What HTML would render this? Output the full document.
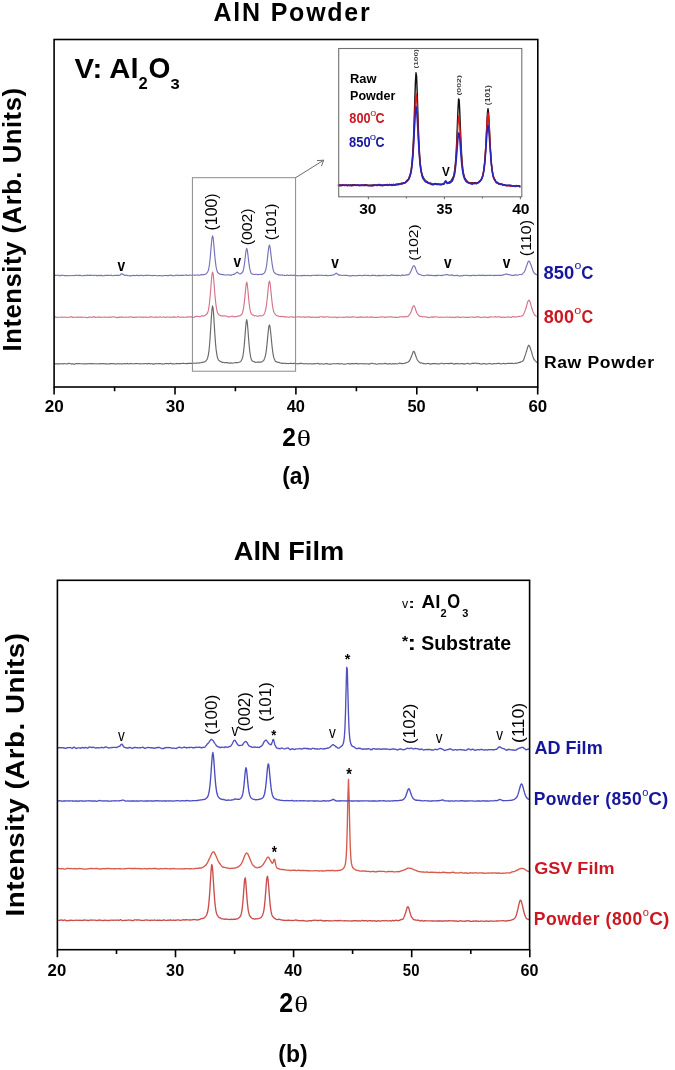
<!DOCTYPE html>
<html><head><meta charset="utf-8"><title>AlN XRD</title>
<style>html,body{margin:0;padding:0;background:#fff;width:675px;height:1070px;overflow:hidden}svg{display:block;will-change:transform}</style>
</head><body><svg width="675" height="1070" viewBox="0 0 675 1070"><path d="M54.1,363.9 54.7,364.0 55.3,363.8 55.9,363.8 56.5,363.8 57.1,363.9 57.7,363.8 58.3,363.8 58.9,363.9 59.5,363.9 60.1,363.9 60.7,363.8 61.3,363.7 61.9,363.6 62.5,363.8 63.1,363.8 63.7,363.8 64.3,363.7 64.9,363.6 65.5,363.7 66.1,363.7 66.7,363.9 67.3,364.0 67.9,363.7 68.5,363.4 69.1,363.2 69.7,363.5 70.3,363.7 70.9,363.8 71.5,364.1 72.1,363.9 72.7,363.9 73.3,363.9 73.9,364.1 74.5,364.2 75.1,363.9 75.7,363.6 76.3,363.6 76.9,363.6 77.5,363.7 78.1,363.6 78.7,363.6 79.3,363.6 79.9,363.7 80.5,363.7 81.1,363.8 81.7,363.7 82.3,363.8 82.9,363.9 83.5,364.0 84.1,363.8 84.7,363.8 85.3,363.7 85.9,363.9 86.5,363.7 87.1,363.9 87.7,363.8 88.3,363.7 88.9,363.6 89.5,363.6 90.1,363.8 90.7,363.7 91.3,363.6 91.9,363.6 92.5,363.6 93.1,363.8 93.7,363.8 94.3,363.7 94.9,363.7 95.5,363.8 96.1,363.9 96.7,363.8 97.3,363.7 97.9,363.8 98.5,364.0 99.1,363.9 99.7,363.7 100.3,363.6 100.9,363.5 101.5,363.8 102.1,363.8 102.7,363.7 103.3,363.5 103.9,363.6 104.5,363.8 105.1,363.9 105.7,363.8 106.3,363.8 106.9,363.9 107.5,364.0 108.1,364.0 108.7,363.9 109.3,363.8 109.9,363.9 110.5,363.6 111.1,363.6 111.7,363.5 112.3,363.6 112.9,363.7 113.5,363.6 114.1,363.8 114.7,363.8 115.3,363.9 115.9,364.0 116.5,364.0 117.1,363.9 117.7,363.5 118.3,363.7 118.9,363.8 119.5,363.9 120.1,363.7 120.7,363.7 121.3,363.9 121.9,363.9 122.5,363.9 123.1,363.7 123.7,363.7 124.3,363.6 124.9,363.8 125.5,363.9 126.1,363.8 126.7,363.5 127.3,363.4 127.9,363.8 128.5,364.0 129.1,363.8 129.7,363.6 130.3,363.6 130.9,363.7 131.5,363.6 132.1,363.7 132.7,363.7 133.3,363.8 133.9,363.7 134.5,363.7 135.1,363.6 135.7,363.5 136.3,363.6 136.9,363.5 137.5,363.5 138.1,363.7 138.7,363.8 139.3,363.9 139.9,363.8 140.5,363.8 141.1,363.7 141.7,363.7 142.3,363.8 142.9,363.7 143.5,363.8 144.1,363.6 144.7,363.7 145.3,363.5 145.9,363.5 146.5,363.8 147.1,363.8 147.7,363.8 148.3,363.4 148.9,363.5 149.5,363.6 150.1,363.8 150.7,363.8 151.3,363.7 151.9,363.8 152.5,363.9 153.1,364.1 153.7,364.1 154.3,363.9 154.9,363.7 155.5,363.6 156.1,363.7 156.7,363.7 157.3,363.8 157.9,363.6 158.5,363.7 159.1,363.6 159.7,363.6 160.3,363.6 160.9,363.8 161.5,364.0 162.1,364.0 162.7,363.7 163.3,364.0 163.9,364.0 164.5,364.0 165.1,363.6 165.7,363.5 166.3,363.5 166.9,363.6 167.5,363.5 168.1,363.8 168.7,363.9 169.3,363.6 169.9,363.5 170.5,363.2 171.1,363.6 171.7,363.7 172.3,363.9 172.9,363.6 173.5,363.8 174.1,364.0 174.7,364.0 175.3,363.8 175.9,363.5 176.5,363.6 177.1,363.4 177.7,363.7 178.3,363.6 178.9,363.7 179.5,363.6 180.1,363.6 180.7,363.6 181.3,363.5 181.9,363.5 182.5,363.4 183.1,363.4 183.7,363.4 184.3,363.5 184.9,363.5 185.5,363.5 186.1,363.6 186.7,363.6 187.3,363.6 187.9,363.4 188.5,363.4 189.1,363.2 189.7,363.4 190.3,363.3 190.9,363.3 191.5,363.3 192.1,363.4 192.7,363.5 193.3,363.2 193.9,363.1 194.5,363.2 195.1,363.2 195.7,363.2 196.3,363.1 196.9,363.1 197.5,363.0 198.1,363.0 198.7,363.1 199.3,362.8 199.9,363.0 200.5,362.8 201.1,362.7 201.7,362.5 202.3,362.4 202.9,362.4 203.5,362.1 204.1,362.0 204.7,361.7 205.3,361.3 205.9,360.9 206.5,360.2 207.1,359.2 207.7,357.5 208.3,355.1 208.9,351.3 209.5,345.5 210.1,337.8 210.7,328.4 211.3,318.4 211.9,310.0 212.5,305.9 213.1,308.1 213.7,315.4 214.3,325.4 214.9,334.9 215.5,343.1 216.1,349.4 216.7,353.7 217.3,357.0 217.9,358.8 218.5,360.1 219.1,360.6 219.7,361.1 220.3,361.4 220.9,361.6 221.5,362.0 222.1,362.3 222.7,362.3 223.3,362.4 223.9,362.5 224.5,362.6 225.1,362.7 225.7,362.8 226.3,362.6 226.9,362.6 227.5,362.6 228.1,362.9 228.7,363.0 229.3,363.2 229.9,363.1 230.5,363.1 231.1,362.9 231.7,363.0 232.3,363.2 232.9,363.2 233.5,363.0 234.1,362.8 234.7,362.7 235.3,362.6 235.9,362.6 236.5,362.6 237.1,362.7 237.7,362.6 238.3,362.5 238.9,362.3 239.5,362.0 240.1,361.9 240.7,361.3 241.3,360.6 241.9,359.4 242.5,357.8 243.1,355.0 243.7,350.8 244.3,344.6 244.9,337.4 245.5,329.3 246.1,322.6 246.7,319.6 247.3,322.4 247.9,329.3 248.5,337.4 249.1,344.8 249.7,350.8 250.3,355.0 250.9,357.9 251.5,359.7 252.1,360.7 252.7,361.3 253.3,361.4 253.9,361.7 254.5,361.8 255.1,362.2 255.7,362.4 256.3,362.2 256.9,362.2 257.5,362.0 258.1,362.3 258.7,362.1 259.3,362.1 259.9,362.0 260.5,362.1 261.1,362.1 261.7,361.8 262.3,361.4 262.9,361.1 263.5,360.6 264.1,359.6 264.7,358.2 265.3,356.1 265.9,353.3 266.5,348.8 267.1,343.4 267.7,336.9 268.3,330.9 268.9,326.1 269.5,324.9 270.1,327.3 270.7,332.5 271.3,338.7 271.9,344.7 272.5,350.2 273.1,354.3 273.7,357.1 274.3,358.9 274.9,360.2 275.5,361.4 276.1,361.7 276.7,361.9 277.3,362.1 277.9,362.3 278.5,362.4 279.1,362.4 279.7,362.8 280.3,363.0 280.9,363.1 281.5,363.0 282.1,363.3 282.7,363.3 283.3,363.5 283.9,363.2 284.5,363.3 285.1,363.2 285.7,363.4 286.3,363.6 286.9,363.5 287.5,363.5 288.1,363.5 288.7,363.6 289.3,363.5 289.9,363.4 290.5,363.3 291.1,363.3 291.7,363.4 292.3,363.5 292.9,363.6 293.5,363.4 294.1,363.4 294.7,363.3 295.3,363.7 295.9,363.6 296.5,363.7 297.1,363.6 297.7,363.8 298.3,363.9 298.9,363.7 299.5,363.4 300.1,363.3 300.7,363.3 301.3,363.6 301.9,363.3 302.5,363.6 303.1,363.7 303.7,363.8 304.3,363.8 304.9,363.7 305.5,363.8 306.1,363.7 306.7,363.6 307.3,363.7 307.9,363.8 308.5,363.8 309.1,363.8 309.7,363.7 310.3,363.8 310.9,363.7 311.5,364.0 312.1,363.9 312.7,364.0 313.3,363.9 313.9,363.9 314.5,363.6 315.1,363.7 315.7,363.7 316.3,363.7 316.9,363.5 317.5,363.4 318.1,363.4 318.7,363.7 319.3,363.9 319.9,364.1 320.5,364.0 321.1,363.8 321.7,363.7 322.3,363.8 322.9,364.1 323.5,364.2 324.1,364.1 324.7,363.8 325.3,363.7 325.9,363.6 326.5,363.6 327.1,363.6 327.7,364.0 328.3,364.0 328.9,364.1 329.5,364.1 330.1,364.1 330.7,364.1 331.3,364.0 331.9,364.0 332.5,363.8 333.1,363.7 333.7,363.8 334.3,363.7 334.9,363.7 335.5,363.8 336.1,363.7 336.7,363.7 337.3,363.5 337.9,363.6 338.5,363.7 339.1,363.9 339.7,363.9 340.3,363.9 340.9,363.8 341.5,363.7 342.1,363.7 342.7,363.9 343.3,364.0 343.9,364.2 344.5,364.1 345.1,364.2 345.7,364.0 346.3,364.0 346.9,363.8 347.5,363.5 348.1,363.5 348.7,363.8 349.3,363.9 349.9,363.9 350.5,363.8 351.1,363.8 351.7,363.5 352.3,363.6 352.9,363.5 353.5,363.6 354.1,363.9 354.7,363.7 355.3,363.7 355.9,363.3 356.5,363.6 357.1,363.6 357.7,363.9 358.3,363.8 358.9,363.9 359.5,363.7 360.1,363.6 360.7,363.7 361.3,363.7 361.9,363.7 362.5,363.5 363.1,363.7 363.7,363.9 364.3,364.0 364.9,363.7 365.5,363.8 366.1,363.8 366.7,363.7 367.3,363.8 367.9,364.0 368.5,364.1 369.1,363.9 369.7,363.8 370.3,363.8 370.9,363.5 371.5,363.2 372.1,363.3 372.7,363.5 373.3,363.7 373.9,363.8 374.5,363.7 375.1,363.7 375.7,363.9 376.3,364.2 376.9,364.2 377.5,364.0 378.1,364.0 378.7,363.7 379.3,363.8 379.9,363.7 380.5,363.9 381.1,363.9 381.7,363.8 382.3,363.7 382.9,363.8 383.5,363.8 384.1,363.7 384.7,363.4 385.3,363.4 385.9,363.6 386.5,363.8 387.1,364.1 387.7,364.0 388.3,363.8 388.9,363.8 389.5,363.6 390.1,363.8 390.7,363.8 391.3,364.0 391.9,363.9 392.5,363.7 393.1,363.6 393.7,363.9 394.3,363.9 394.9,363.7 395.5,363.5 396.1,363.7 396.7,364.0 397.3,364.0 397.9,363.8 398.5,363.5 399.1,363.2 399.7,363.0 400.3,363.2 400.9,363.4 401.5,363.6 402.1,363.6 402.7,363.6 403.3,363.5 403.9,363.4 404.5,363.3 405.1,363.2 405.7,362.9 406.3,362.6 406.9,362.5 407.5,362.3 408.1,362.0 408.7,361.5 409.3,361.0 409.9,359.9 410.5,358.7 411.1,357.2 411.7,355.8 412.3,354.1 412.9,352.5 413.5,351.4 414.1,351.4 414.7,352.8 415.3,354.5 415.9,356.2 416.5,357.9 417.1,359.4 417.7,360.6 418.3,361.1 418.9,361.7 419.5,362.5 420.1,362.8 420.7,363.1 421.3,362.8 421.9,363.1 422.5,363.2 423.1,363.4 423.7,363.6 424.3,363.6 424.9,363.7 425.5,363.8 426.1,363.9 426.7,363.8 427.3,363.5 427.9,363.4 428.5,363.5 429.1,363.5 429.7,364.0 430.3,364.1 430.9,364.1 431.5,363.8 432.1,363.8 432.7,363.6 433.3,363.6 433.9,363.5 434.5,363.6 435.1,363.6 435.7,363.5 436.3,363.7 436.9,363.8 437.5,363.8 438.1,363.8 438.7,363.8 439.3,363.9 439.9,363.8 440.5,363.6 441.1,363.3 441.7,363.2 442.3,363.3 442.9,363.6 443.5,363.8 444.1,363.8 444.7,363.6 445.3,363.5 445.9,363.5 446.5,363.6 447.1,363.5 447.7,363.5 448.3,363.6 448.9,363.6 449.5,363.6 450.1,363.2 450.7,363.5 451.3,363.4 451.9,363.4 452.5,363.4 453.1,363.7 453.7,364.0 454.3,364.1 454.9,363.9 455.5,363.6 456.1,363.6 456.7,363.5 457.3,363.6 457.9,363.6 458.5,363.7 459.1,363.8 459.7,363.8 460.3,363.7 460.9,363.8 461.5,363.6 462.1,363.8 462.7,363.6 463.3,363.9 463.9,363.8 464.5,364.1 465.1,363.9 465.7,363.8 466.3,363.7 466.9,363.5 467.5,363.4 468.1,363.4 468.7,363.8 469.3,364.0 469.9,363.9 470.5,363.9 471.1,363.7 471.7,363.6 472.3,363.3 472.9,363.3 473.5,363.4 474.1,363.6 474.7,363.2 475.3,363.0 475.9,363.0 476.5,363.5 477.1,363.7 477.7,363.6 478.3,363.3 478.9,363.6 479.5,363.6 480.1,364.0 480.7,364.0 481.3,364.2 481.9,363.9 482.5,363.7 483.1,363.6 483.7,363.7 484.3,363.6 484.9,363.8 485.5,363.9 486.1,364.1 486.7,364.0 487.3,364.0 487.9,363.7 488.5,363.7 489.1,363.5 489.7,363.4 490.3,363.7 490.9,363.8 491.5,364.1 492.1,364.0 492.7,363.9 493.3,363.7 493.9,363.5 494.5,363.6 495.1,363.7 495.7,363.7 496.3,363.7 496.9,363.4 497.5,363.5 498.1,363.4 498.7,363.5 499.3,363.4 499.9,363.6 500.5,363.7 501.1,364.0 501.7,363.9 502.3,363.7 502.9,363.5 503.5,363.3 504.1,363.5 504.7,363.7 505.3,363.9 505.9,363.7 506.5,363.5 507.1,363.5 507.7,363.4 508.3,363.4 508.9,363.4 509.5,363.5 510.1,363.4 510.7,363.4 511.3,363.4 511.9,363.3 512.5,363.4 513.1,363.5 513.7,363.7 514.3,363.5 514.9,363.2 515.5,363.1 516.1,363.3 516.7,363.3 517.3,363.0 517.9,362.8 518.5,362.6 519.1,362.6 519.7,362.3 520.3,362.3 520.9,361.8 521.5,361.7 522.1,361.5 522.7,361.1 523.3,360.4 523.9,359.0 524.5,357.6 525.1,355.6 525.7,353.9 526.3,351.8 526.9,350.0 527.5,347.7 528.1,346.1 528.7,345.2 529.3,345.7 529.9,347.0 530.5,348.7 531.1,350.6 531.7,352.4 532.3,354.7 532.9,356.7 533.5,358.4 534.1,359.5 534.7,360.1 535.3,360.8 535.9,361.4 536.5,362.1 537.1,362.6 537.7,362.7" fill="none" stroke="#686868" stroke-width="1.15" stroke-linejoin="round"/>
<path d="M54.1,317.2 54.7,317.1 55.3,316.8 55.9,317.1 56.5,317.2 57.1,317.5 57.7,317.4 58.3,317.3 58.9,317.2 59.5,317.3 60.1,317.2 60.7,317.2 61.3,317.0 61.9,317.1 62.5,317.1 63.1,317.3 63.7,317.2 64.3,317.2 64.9,317.0 65.5,317.2 66.1,317.2 66.7,317.3 67.3,317.3 67.9,317.2 68.5,317.2 69.1,317.4 69.7,317.3 70.3,317.0 70.9,316.6 71.5,316.9 72.1,317.1 72.7,317.4 73.3,317.4 73.9,317.4 74.5,317.3 75.1,317.2 75.7,317.3 76.3,317.1 76.9,317.1 77.5,317.0 78.1,317.4 78.7,317.3 79.3,317.2 79.9,316.9 80.5,317.1 81.1,317.2 81.7,317.4 82.3,317.1 82.9,317.3 83.5,317.2 84.1,317.3 84.7,317.2 85.3,317.2 85.9,317.4 86.5,317.5 87.1,317.6 87.7,317.6 88.3,317.5 88.9,317.1 89.5,317.1 90.1,317.1 90.7,317.2 91.3,317.1 91.9,317.2 92.5,317.1 93.1,317.0 93.7,316.6 94.3,316.9 94.9,317.1 95.5,317.5 96.1,317.4 96.7,317.3 97.3,317.2 97.9,317.1 98.5,317.1 99.1,316.9 99.7,317.1 100.3,317.3 100.9,317.5 101.5,317.2 102.1,317.1 102.7,317.2 103.3,317.2 103.9,317.2 104.5,317.1 105.1,317.0 105.7,317.1 106.3,317.2 106.9,317.2 107.5,317.4 108.1,317.2 108.7,317.3 109.3,317.0 109.9,317.1 110.5,317.1 111.1,317.1 111.7,317.1 112.3,317.0 112.9,316.9 113.5,316.8 114.1,316.9 114.7,317.0 115.3,317.3 115.9,317.4 116.5,317.6 117.1,317.6 117.7,317.4 118.3,317.4 118.9,317.2 119.5,317.4 120.1,317.1 120.7,317.2 121.3,316.9 121.9,317.1 122.5,317.0 123.1,317.2 123.7,317.2 124.3,317.3 124.9,317.5 125.5,317.2 126.1,317.1 126.7,317.1 127.3,317.2 127.9,317.3 128.5,317.3 129.1,317.1 129.7,317.0 130.3,316.9 130.9,316.9 131.5,316.9 132.1,317.2 132.7,317.4 133.3,317.3 133.9,317.3 134.5,317.1 135.1,317.4 135.7,317.4 136.3,317.5 136.9,317.1 137.5,317.0 138.1,317.0 138.7,317.1 139.3,317.2 139.9,317.0 140.5,317.1 141.1,317.0 141.7,317.3 142.3,317.2 142.9,317.5 143.5,317.1 144.1,317.2 144.7,317.0 145.3,317.1 145.9,317.0 146.5,317.1 147.1,317.2 147.7,317.2 148.3,317.4 148.9,317.3 149.5,317.1 150.1,316.9 150.7,316.9 151.3,316.8 151.9,317.0 152.5,317.0 153.1,317.2 153.7,317.2 154.3,317.3 154.9,317.4 155.5,317.1 156.1,317.1 156.7,317.1 157.3,317.1 157.9,317.2 158.5,317.2 159.1,317.1 159.7,317.0 160.3,316.8 160.9,317.1 161.5,317.2 162.1,317.2 162.7,317.0 163.3,316.9 163.9,317.0 164.5,317.3 165.1,317.4 165.7,317.4 166.3,317.3 166.9,316.9 167.5,317.0 168.1,317.0 168.7,317.2 169.3,317.1 169.9,317.1 170.5,317.3 171.1,317.4 171.7,317.2 172.3,317.2 172.9,316.9 173.5,317.1 174.1,316.9 174.7,317.2 175.3,317.0 175.9,317.3 176.5,317.2 177.1,317.1 177.7,316.7 178.3,316.6 178.9,317.0 179.5,317.2 180.1,317.2 180.7,317.1 181.3,317.1 181.9,317.2 182.5,317.2 183.1,317.0 183.7,317.1 184.3,317.2 184.9,317.2 185.5,317.3 186.1,317.2 186.7,317.3 187.3,316.8 187.9,316.8 188.5,316.9 189.1,317.0 189.7,316.8 190.3,316.8 190.9,316.8 191.5,316.9 192.1,317.1 192.7,317.4 193.3,317.6 193.9,317.2 194.5,317.0 195.1,316.6 195.7,316.6 196.3,316.4 196.9,316.5 197.5,316.3 198.1,316.4 198.7,316.5 199.3,316.7 199.9,316.6 200.5,316.5 201.1,316.2 201.7,315.8 202.3,315.8 202.9,315.9 203.5,316.0 204.1,315.9 204.7,315.5 205.3,315.2 205.9,314.7 206.5,314.2 207.1,313.7 207.7,312.6 208.3,310.7 208.9,307.3 209.5,302.8 210.1,296.7 210.7,289.6 211.3,281.8 211.9,275.3 212.5,272.0 213.1,273.7 213.7,279.3 214.3,286.8 214.9,294.2 215.5,300.8 216.1,305.8 216.7,309.4 217.3,312.0 217.9,313.6 218.5,314.4 219.1,314.9 219.7,315.1 220.3,315.6 220.9,315.8 221.5,315.9 222.1,315.9 222.7,316.1 223.3,316.0 223.9,315.9 224.5,315.8 225.1,316.0 225.7,316.0 226.3,316.0 226.9,316.3 227.5,316.5 228.1,316.9 228.7,316.8 229.3,316.9 229.9,316.7 230.5,316.7 231.1,316.5 231.7,316.2 232.3,316.1 232.9,316.3 233.5,316.7 234.1,316.8 234.7,316.8 235.3,316.5 235.9,316.5 236.5,316.6 237.1,316.5 237.7,316.3 238.3,315.9 238.9,316.0 239.5,315.9 240.1,315.8 240.7,315.3 241.3,314.9 241.9,314.1 242.5,312.7 243.1,310.5 243.7,307.1 244.3,302.6 244.9,296.9 245.5,290.2 246.1,284.6 246.7,282.1 247.3,284.5 247.9,290.2 248.5,296.7 249.1,303.0 249.7,307.5 250.3,310.9 250.9,312.8 251.5,314.1 252.1,314.5 252.7,314.8 253.3,315.2 253.9,315.6 254.5,315.9 255.1,315.7 255.7,315.8 256.3,316.0 256.9,316.1 257.5,316.3 258.1,316.2 258.7,316.1 259.3,315.6 259.9,315.7 260.5,315.7 261.1,315.9 261.7,315.7 262.3,315.7 262.9,315.4 263.5,314.9 264.1,314.1 264.7,312.9 265.3,311.1 265.9,308.5 266.5,304.6 267.1,299.7 267.7,293.6 268.3,287.4 268.9,282.6 269.5,281.1 270.1,283.5 270.7,288.8 271.3,294.9 271.9,300.8 272.5,305.7 273.1,309.2 273.7,311.8 274.3,313.0 274.9,313.9 275.5,314.4 276.1,315.1 276.7,315.7 277.3,315.7 277.9,315.9 278.5,316.0 279.1,316.4 279.7,316.5 280.3,316.6 280.9,316.4 281.5,316.5 282.1,316.4 282.7,316.7 283.3,316.6 283.9,316.6 284.5,316.6 285.1,317.0 285.7,317.1 286.3,317.1 286.9,316.9 287.5,317.0 288.1,317.0 288.7,317.3 289.3,317.2 289.9,317.1 290.5,316.8 291.1,316.7 291.7,316.7 292.3,316.9 292.9,317.1 293.5,317.1 294.1,317.2 294.7,317.1 295.3,317.2 295.9,317.0 296.5,317.0 297.1,317.0 297.7,316.7 298.3,316.7 298.9,316.9 299.5,316.8 300.1,316.9 300.7,316.9 301.3,317.2 301.9,317.1 302.5,317.0 303.1,317.0 303.7,316.9 304.3,317.1 304.9,317.0 305.5,317.1 306.1,317.0 306.7,317.1 307.3,317.0 307.9,316.8 308.5,316.8 309.1,316.9 309.7,317.1 310.3,317.1 310.9,317.4 311.5,317.3 312.1,317.4 312.7,317.0 313.3,317.1 313.9,317.2 314.5,317.2 315.1,317.4 315.7,317.4 316.3,317.3 316.9,317.3 317.5,317.1 318.1,317.5 318.7,317.3 319.3,317.3 319.9,316.8 320.5,316.7 321.1,316.7 321.7,316.8 322.3,316.8 322.9,316.8 323.5,316.9 324.1,317.2 324.7,317.1 325.3,317.1 325.9,316.8 326.5,316.8 327.1,316.7 327.7,316.7 328.3,317.0 328.9,317.1 329.5,317.2 330.1,317.1 330.7,317.2 331.3,317.2 331.9,317.2 332.5,317.1 333.1,317.2 333.7,317.2 334.3,317.2 334.9,317.0 335.5,317.1 336.1,317.2 336.7,317.7 337.3,317.4 337.9,317.5 338.5,317.1 339.1,317.2 339.7,317.2 340.3,317.2 340.9,317.2 341.5,317.1 342.1,317.2 342.7,317.3 343.3,317.4 343.9,317.4 344.5,317.4 345.1,317.2 345.7,317.0 346.3,316.9 346.9,316.9 347.5,317.1 348.1,317.1 348.7,317.1 349.3,317.1 349.9,317.0 350.5,317.1 351.1,317.0 351.7,317.1 352.3,316.9 352.9,316.8 353.5,316.8 354.1,317.0 354.7,317.0 355.3,317.0 355.9,317.2 356.5,317.2 357.1,317.4 357.7,317.3 358.3,317.3 358.9,317.3 359.5,317.1 360.1,317.1 360.7,316.9 361.3,317.1 361.9,317.1 362.5,317.2 363.1,316.9 363.7,317.2 364.3,317.3 364.9,317.4 365.5,317.2 366.1,316.9 366.7,316.9 367.3,317.1 367.9,317.1 368.5,317.2 369.1,317.2 369.7,317.3 370.3,317.1 370.9,316.9 371.5,317.1 372.1,317.1 372.7,317.0 373.3,317.1 373.9,317.2 374.5,317.5 375.1,317.5 375.7,317.4 376.3,317.3 376.9,317.3 377.5,317.4 378.1,317.3 378.7,317.2 379.3,317.1 379.9,317.0 380.5,317.0 381.1,316.8 381.7,316.9 382.3,316.8 382.9,317.0 383.5,317.0 384.1,317.1 384.7,317.4 385.3,317.4 385.9,317.2 386.5,317.0 387.1,316.9 387.7,317.1 388.3,317.0 388.9,317.0 389.5,316.9 390.1,316.9 390.7,316.8 391.3,316.8 391.9,316.8 392.5,317.2 393.1,317.2 393.7,317.2 394.3,317.1 394.9,317.2 395.5,317.4 396.1,317.4 396.7,317.3 397.3,317.3 397.9,317.4 398.5,317.3 399.1,317.2 399.7,316.8 400.3,316.8 400.9,316.7 401.5,316.8 402.1,316.8 402.7,316.8 403.3,316.8 403.9,316.9 404.5,316.9 405.1,316.8 405.7,316.5 406.3,316.6 406.9,316.7 407.5,316.6 408.1,316.3 408.7,315.6 409.3,314.9 409.9,314.0 410.5,313.2 411.1,311.8 411.7,310.0 412.3,308.2 412.9,306.5 413.5,305.8 414.1,305.7 414.7,306.9 415.3,308.4 415.9,310.5 416.5,312.1 417.1,313.5 417.7,314.2 418.3,315.1 418.9,315.5 419.5,316.1 420.1,316.4 420.7,316.5 421.3,316.4 421.9,316.5 422.5,316.8 423.1,316.8 423.7,316.7 424.3,316.8 424.9,317.0 425.5,317.1 426.1,316.9 426.7,317.0 427.3,317.0 427.9,317.5 428.5,317.6 429.1,317.6 429.7,317.2 430.3,317.0 430.9,317.0 431.5,317.1 432.1,316.9 432.7,317.1 433.3,317.1 433.9,317.1 434.5,316.8 435.1,316.8 435.7,316.9 436.3,317.0 436.9,317.0 437.5,317.0 438.1,317.0 438.7,317.2 439.3,317.3 439.9,317.3 440.5,317.2 441.1,317.0 441.7,317.2 442.3,317.3 442.9,317.3 443.5,317.2 444.1,317.2 444.7,317.3 445.3,317.2 445.9,317.1 446.5,317.0 447.1,317.0 447.7,317.1 448.3,317.2 448.9,317.2 449.5,317.1 450.1,317.0 450.7,317.2 451.3,317.4 451.9,317.3 452.5,317.0 453.1,317.2 453.7,317.5 454.3,317.6 454.9,317.5 455.5,317.1 456.1,317.1 456.7,317.1 457.3,317.0 457.9,316.9 458.5,316.9 459.1,317.3 459.7,317.3 460.3,317.3 460.9,317.3 461.5,317.3 462.1,317.2 462.7,317.0 463.3,317.0 463.9,317.3 464.5,317.3 465.1,317.2 465.7,317.4 466.3,317.3 466.9,317.4 467.5,317.2 468.1,317.4 468.7,317.4 469.3,317.3 469.9,317.2 470.5,317.1 471.1,317.0 471.7,317.0 472.3,317.1 472.9,317.1 473.5,317.1 474.1,317.3 474.7,317.4 475.3,317.2 475.9,317.1 476.5,316.8 477.1,316.8 477.7,316.8 478.3,316.8 478.9,317.1 479.5,317.0 480.1,317.2 480.7,317.4 481.3,317.5 481.9,317.4 482.5,317.3 483.1,317.2 483.7,317.1 484.3,317.1 484.9,317.0 485.5,317.1 486.1,317.2 486.7,317.3 487.3,317.4 487.9,317.6 488.5,317.4 489.1,317.2 489.7,316.8 490.3,317.0 490.9,316.9 491.5,316.9 492.1,317.0 492.7,317.0 493.3,317.0 493.9,317.0 494.5,316.8 495.1,316.9 495.7,316.9 496.3,317.1 496.9,317.0 497.5,317.0 498.1,316.8 498.7,316.9 499.3,316.8 499.9,317.0 500.5,316.9 501.1,317.2 501.7,317.4 502.3,317.4 502.9,317.2 503.5,317.0 504.1,317.1 504.7,317.4 505.3,317.5 505.9,317.3 506.5,317.2 507.1,317.0 507.7,317.1 508.3,316.9 508.9,317.0 509.5,317.1 510.1,317.2 510.7,317.3 511.3,317.3 511.9,316.9 512.5,316.5 513.1,316.5 513.7,316.7 514.3,317.1 514.9,317.1 515.5,317.0 516.1,316.9 516.7,317.0 517.3,316.9 517.9,316.8 518.5,316.5 519.1,316.3 519.7,316.3 520.3,316.2 520.9,316.2 521.5,316.0 522.1,315.9 522.7,315.5 523.3,314.8 523.9,313.6 524.5,312.2 525.1,310.6 525.7,309.1 526.3,307.0 526.9,304.8 527.5,302.5 528.1,301.1 528.7,300.2 529.3,300.3 529.9,301.5 530.5,303.3 531.1,305.7 531.7,307.8 532.3,309.8 532.9,311.4 533.5,312.7 534.1,314.0 534.7,314.8 535.3,315.6 535.9,316.0 536.5,316.2 537.1,316.2 537.7,316.3" fill="none" stroke="#d4748a" stroke-width="1.15" stroke-linejoin="round"/>
<path d="M54.1,275.4 54.7,275.5 55.3,275.2 55.9,275.4 56.5,275.3 57.1,275.2 57.7,275.2 58.3,275.1 58.9,275.7 59.5,275.8 60.1,275.9 60.7,275.4 61.3,275.3 61.9,275.3 62.5,275.2 63.1,275.4 63.7,275.5 64.3,275.6 64.9,275.6 65.5,275.6 66.1,275.6 66.7,275.7 67.3,275.7 67.9,275.5 68.5,275.5 69.1,275.8 69.7,275.7 70.3,275.7 70.9,275.5 71.5,275.5 72.1,275.5 72.7,275.5 73.3,275.6 73.9,275.7 74.5,275.6 75.1,275.3 75.7,275.4 76.3,275.2 76.9,275.3 77.5,275.2 78.1,275.4 78.7,275.6 79.3,275.4 79.9,275.3 80.5,275.4 81.1,275.6 81.7,275.7 82.3,275.8 82.9,275.7 83.5,275.6 84.1,275.5 84.7,275.4 85.3,275.5 85.9,275.6 86.5,275.4 87.1,275.4 87.7,275.1 88.3,275.3 88.9,275.3 89.5,275.4 90.1,275.4 90.7,275.2 91.3,275.5 91.9,275.2 92.5,275.2 93.1,275.2 93.7,275.6 94.3,275.5 94.9,275.3 95.5,275.2 96.1,275.4 96.7,275.6 97.3,275.5 97.9,275.6 98.5,275.3 99.1,275.6 99.7,275.5 100.3,275.6 100.9,275.2 101.5,275.4 102.1,275.6 102.7,275.8 103.3,275.8 103.9,275.7 104.5,275.6 105.1,275.4 105.7,275.2 106.3,275.5 106.9,275.4 107.5,275.4 108.1,275.2 108.7,275.4 109.3,275.5 109.9,275.4 110.5,275.2 111.1,275.1 111.7,275.4 112.3,275.7 112.9,275.7 113.5,275.5 114.1,275.5 114.7,275.4 115.3,275.5 115.9,275.4 116.5,275.4 117.1,275.3 117.7,275.4 118.3,275.3 118.9,275.4 119.5,275.3 120.1,275.1 120.7,274.3 121.3,273.9 121.9,273.7 122.5,274.3 123.1,274.4 123.7,274.9 124.3,275.1 124.9,275.4 125.5,275.2 126.1,275.0 126.7,275.2 127.3,275.4 127.9,275.7 128.5,275.7 129.1,275.7 129.7,275.5 130.3,275.8 130.9,275.8 131.5,275.9 132.1,275.6 132.7,275.5 133.3,275.2 133.9,275.5 134.5,275.6 135.1,275.7 135.7,275.5 136.3,275.4 136.9,275.4 137.5,275.3 138.1,275.3 138.7,275.7 139.3,275.8 139.9,275.7 140.5,275.2 141.1,275.1 141.7,275.2 142.3,275.5 142.9,275.6 143.5,275.6 144.1,275.5 144.7,275.5 145.3,275.3 145.9,275.3 146.5,275.3 147.1,275.3 147.7,275.3 148.3,275.2 148.9,275.3 149.5,275.4 150.1,275.5 150.7,275.5 151.3,275.5 151.9,275.6 152.5,275.8 153.1,275.5 153.7,275.5 154.3,275.3 154.9,275.5 155.5,275.5 156.1,275.7 156.7,275.8 157.3,275.7 157.9,275.8 158.5,275.6 159.1,275.6 159.7,275.5 160.3,275.5 160.9,275.7 161.5,275.8 162.1,276.1 162.7,275.8 163.3,275.7 163.9,275.4 164.5,275.5 165.1,275.5 165.7,275.5 166.3,275.4 166.9,275.7 167.5,275.5 168.1,275.7 168.7,275.4 169.3,275.4 169.9,275.2 170.5,275.1 171.1,275.2 171.7,275.4 172.3,275.6 172.9,275.6 173.5,275.7 174.1,275.7 174.7,275.7 175.3,275.4 175.9,275.2 176.5,275.3 177.1,275.1 177.7,275.4 178.3,275.3 178.9,275.6 179.5,275.5 180.1,275.4 180.7,275.3 181.3,275.3 181.9,275.3 182.5,275.3 183.1,275.3 183.7,275.3 184.3,275.2 184.9,275.2 185.5,275.0 186.1,275.1 186.7,274.9 187.3,275.3 187.9,275.5 188.5,275.4 189.1,275.3 189.7,275.1 190.3,275.2 190.9,275.2 191.5,275.2 192.1,275.1 192.7,275.0 193.3,275.0 193.9,275.2 194.5,275.1 195.1,275.1 195.7,275.2 196.3,275.2 196.9,275.0 197.5,274.9 198.1,274.9 198.7,275.2 199.3,275.2 199.9,275.1 200.5,274.7 201.1,274.6 201.7,274.9 202.3,274.9 202.9,274.9 203.5,274.5 204.1,274.4 204.7,274.5 205.3,274.2 205.9,274.0 206.5,273.4 207.1,272.9 207.7,271.8 208.3,270.5 208.9,267.9 209.5,264.3 210.1,258.8 210.7,252.1 211.3,244.9 211.9,238.8 212.5,235.8 213.1,237.5 213.7,243.0 214.3,250.1 214.9,257.0 215.5,262.7 216.1,266.9 216.7,269.7 217.3,271.6 217.9,272.7 218.5,273.3 219.1,273.6 219.7,274.1 220.3,274.3 220.9,274.4 221.5,274.3 222.1,274.6 222.7,274.5 223.3,274.6 223.9,274.7 224.5,274.9 225.1,275.0 225.7,275.0 226.3,275.0 226.9,274.9 227.5,274.7 228.1,274.7 228.7,274.9 229.3,275.0 229.9,275.3 230.5,275.0 231.1,275.3 231.7,275.0 232.3,274.7 232.9,274.5 233.5,274.4 234.1,274.4 234.7,274.0 235.3,273.6 235.9,273.2 236.5,272.6 237.1,272.2 237.7,272.4 238.3,272.9 238.9,273.4 239.5,273.8 240.1,274.1 240.7,273.8 241.3,273.3 241.9,272.8 242.5,272.2 243.1,271.0 243.7,268.6 244.3,264.9 244.9,260.2 245.5,254.8 246.1,250.3 246.7,248.3 247.3,250.1 247.9,254.6 248.5,259.9 249.1,264.7 249.7,268.4 250.3,270.8 250.9,272.8 251.5,273.6 252.1,274.1 252.7,274.1 253.3,274.2 253.9,274.4 254.5,274.5 255.1,274.4 255.7,274.2 256.3,274.2 256.9,274.3 257.5,274.8 258.1,274.6 258.7,274.5 259.3,274.5 259.9,274.4 260.5,274.5 261.1,274.4 261.7,274.4 262.3,274.3 262.9,273.9 263.5,273.7 264.1,273.1 264.7,272.4 265.3,271.0 265.9,269.2 266.5,266.0 267.1,261.5 267.7,256.1 268.3,250.6 268.9,246.5 269.5,245.0 270.1,247.5 270.7,252.1 271.3,257.6 271.9,262.3 272.5,266.3 273.1,269.3 273.7,271.4 274.3,272.6 274.9,273.0 275.5,273.6 276.1,274.0 276.7,274.2 277.3,274.4 277.9,274.5 278.5,274.9 279.1,274.8 279.7,275.1 280.3,275.1 280.9,275.2 281.5,275.0 282.1,274.9 282.7,275.1 283.3,275.2 283.9,275.3 284.5,275.3 285.1,275.5 285.7,275.5 286.3,275.5 286.9,275.1 287.5,275.1 288.1,275.2 288.7,275.4 289.3,275.5 289.9,275.3 290.5,275.3 291.1,275.1 291.7,275.3 292.3,275.4 292.9,275.5 293.5,275.2 294.1,275.1 294.7,275.4 295.3,275.6 295.9,275.5 296.5,275.5 297.1,275.6 297.7,275.8 298.3,275.8 298.9,275.7 299.5,275.7 300.1,275.7 300.7,275.5 301.3,275.6 301.9,275.5 302.5,275.8 303.1,275.4 303.7,275.5 304.3,275.4 304.9,275.6 305.5,275.5 306.1,275.5 306.7,275.6 307.3,275.5 307.9,275.4 308.5,275.5 309.1,275.7 309.7,275.7 310.3,275.6 310.9,275.5 311.5,275.6 312.1,275.5 312.7,275.3 313.3,275.2 313.9,275.2 314.5,275.3 315.1,275.3 315.7,275.4 316.3,275.4 316.9,275.5 317.5,275.2 318.1,275.4 318.7,275.1 319.3,275.2 319.9,275.2 320.5,275.3 321.1,275.4 321.7,275.2 322.3,275.3 322.9,275.4 323.5,275.5 324.1,275.5 324.7,275.5 325.3,275.4 325.9,275.2 326.5,275.4 327.1,275.6 327.7,275.8 328.3,275.7 328.9,275.5 329.5,275.5 330.1,275.4 330.7,275.5 331.3,275.4 331.9,275.3 332.5,275.1 333.1,274.8 333.7,274.8 334.3,274.6 334.9,274.2 335.5,273.6 336.1,273.1 336.7,273.4 337.3,273.9 337.9,274.5 338.5,274.9 339.1,274.9 339.7,275.1 340.3,275.1 340.9,275.2 341.5,275.3 342.1,275.5 342.7,275.5 343.3,275.2 343.9,275.2 344.5,275.3 345.1,275.4 345.7,275.3 346.3,275.3 346.9,275.4 347.5,275.5 348.1,275.6 348.7,275.8 349.3,275.9 349.9,275.9 350.5,275.8 351.1,275.8 351.7,275.8 352.3,275.6 352.9,275.5 353.5,275.4 354.1,275.8 354.7,275.7 355.3,275.7 355.9,275.6 356.5,275.8 357.1,275.7 357.7,275.6 358.3,275.5 358.9,275.4 359.5,275.5 360.1,275.4 360.7,275.5 361.3,275.7 361.9,275.7 362.5,275.6 363.1,275.4 363.7,275.5 364.3,275.4 364.9,275.3 365.5,275.2 366.1,275.4 366.7,275.5 367.3,275.5 367.9,275.3 368.5,275.4 369.1,275.6 369.7,275.7 370.3,275.7 370.9,275.6 371.5,275.4 372.1,275.4 372.7,275.3 373.3,275.4 373.9,275.5 374.5,275.4 375.1,275.4 375.7,275.6 376.3,275.8 376.9,275.7 377.5,275.5 378.1,275.6 378.7,275.4 379.3,275.6 379.9,275.4 380.5,275.7 381.1,275.6 381.7,275.6 382.3,275.4 382.9,275.5 383.5,275.4 384.1,275.4 384.7,275.3 385.3,275.2 385.9,275.3 386.5,275.5 387.1,275.7 387.7,275.6 388.3,275.5 388.9,275.5 389.5,275.5 390.1,275.7 390.7,275.5 391.3,274.9 391.9,274.7 392.5,275.0 393.1,275.4 393.7,275.5 394.3,275.4 394.9,275.3 395.5,275.4 396.1,275.4 396.7,275.6 397.3,275.6 397.9,275.4 398.5,275.4 399.1,275.3 399.7,275.5 400.3,275.7 400.9,275.7 401.5,275.3 402.1,274.9 402.7,275.0 403.3,275.4 403.9,275.5 404.5,275.3 405.1,275.1 405.7,275.0 406.3,274.9 406.9,275.1 407.5,274.7 408.1,274.8 408.7,274.4 409.3,274.0 409.9,273.3 410.5,272.1 411.1,270.8 411.7,269.3 412.3,267.9 412.9,266.6 413.5,265.7 414.1,265.7 414.7,266.3 415.3,267.7 415.9,269.4 416.5,270.9 417.1,272.3 417.7,273.2 418.3,273.9 418.9,274.1 419.5,274.4 420.1,274.7 420.7,274.8 421.3,275.0 421.9,275.2 422.5,275.5 423.1,275.5 423.7,275.6 424.3,275.7 424.9,275.6 425.5,275.3 426.1,275.2 426.7,275.3 427.3,275.0 427.9,275.1 428.5,275.1 429.1,275.4 429.7,275.3 430.3,275.5 430.9,275.4 431.5,275.4 432.1,275.3 432.7,275.5 433.3,275.6 433.9,275.7 434.5,275.6 435.1,275.5 435.7,275.6 436.3,275.4 436.9,275.6 437.5,275.4 438.1,275.5 438.7,275.3 439.3,275.2 439.9,275.3 440.5,275.5 441.1,275.6 441.7,275.4 442.3,275.4 442.9,275.2 443.5,275.1 444.1,275.0 444.7,275.0 445.3,274.9 445.9,274.8 446.5,274.6 447.1,274.5 447.7,274.7 448.3,274.9 448.9,275.2 449.5,275.3 450.1,275.2 450.7,275.0 451.3,275.1 451.9,274.9 452.5,275.1 453.1,275.2 453.7,275.6 454.3,275.8 454.9,275.6 455.5,275.5 456.1,275.3 456.7,275.5 457.3,275.4 457.9,275.6 458.5,275.8 459.1,276.0 459.7,276.1 460.3,275.9 460.9,275.7 461.5,275.6 462.1,275.8 462.7,275.8 463.3,275.6 463.9,275.2 464.5,275.3 465.1,275.4 465.7,275.5 466.3,275.5 466.9,275.2 467.5,275.3 468.1,275.4 468.7,275.7 469.3,275.7 469.9,275.4 470.5,275.6 471.1,275.5 471.7,275.6 472.3,275.5 472.9,275.3 473.5,275.3 474.1,275.2 474.7,275.5 475.3,275.6 475.9,275.7 476.5,275.5 477.1,275.3 477.7,275.2 478.3,275.5 478.9,275.4 479.5,275.1 480.1,275.2 480.7,275.4 481.3,275.6 481.9,275.3 482.5,275.5 483.1,275.1 483.7,275.3 484.3,275.3 484.9,275.6 485.5,275.7 486.1,275.3 486.7,275.5 487.3,275.3 487.9,275.5 488.5,275.3 489.1,275.4 489.7,275.4 490.3,275.3 490.9,275.3 491.5,275.2 492.1,275.3 492.7,275.4 493.3,275.5 493.9,275.6 494.5,275.4 495.1,275.3 495.7,275.3 496.3,275.4 496.9,275.4 497.5,275.5 498.1,275.4 498.7,275.3 499.3,275.4 499.9,275.3 500.5,275.4 501.1,275.4 501.7,275.4 502.3,275.3 502.9,274.9 503.5,274.9 504.1,274.6 504.7,274.5 505.3,274.3 505.9,274.1 506.5,274.1 507.1,274.1 507.7,274.4 508.3,274.5 508.9,274.8 509.5,274.8 510.1,274.7 510.7,274.9 511.3,275.2 511.9,275.5 512.5,275.4 513.1,275.4 513.7,275.3 514.3,275.3 514.9,274.9 515.5,274.8 516.1,274.8 516.7,275.2 517.3,275.2 517.9,275.1 518.5,274.8 519.1,274.7 519.7,274.5 520.3,274.5 520.9,274.5 521.5,274.6 522.1,274.3 522.7,273.7 523.3,273.0 523.9,272.3 524.5,271.6 525.1,270.3 525.7,268.6 526.3,266.7 526.9,265.1 527.5,263.3 528.1,261.8 528.7,261.0 529.3,261.2 529.9,262.3 530.5,263.7 531.1,265.2 531.7,267.0 532.3,268.7 532.9,270.6 533.5,271.9 534.1,273.0 534.7,273.6 535.3,274.0 535.9,274.4 536.5,274.6 537.1,274.8 537.7,274.8" fill="none" stroke="#7472b8" stroke-width="1.15" stroke-linejoin="round"/>
<path d="M338.0,185.2 338.6,185.5 339.2,185.7 339.8,185.3 340.4,185.0 341.0,185.0 341.6,185.2 342.2,185.3 342.8,185.4 343.4,185.0 344.0,185.2 344.6,185.5 345.2,185.3 345.8,185.3 346.4,185.1 347.0,185.2 347.6,185.5 348.2,185.4 348.8,185.2 349.4,185.3 350.0,185.2 350.6,184.8 351.2,185.0 351.8,185.2 352.4,184.7 353.0,184.7 353.6,185.0 354.2,184.9 354.8,184.7 355.4,185.0 356.0,185.4 356.6,185.4 357.2,185.1 357.8,185.2 358.4,185.5 359.0,185.3 359.6,185.3 360.2,185.6 360.8,185.4 361.4,185.1 362.0,185.2 362.6,185.4 363.2,185.5 363.8,185.2 364.4,184.9 365.0,185.0 365.6,184.7 366.2,184.9 366.8,185.4 367.4,185.2 368.0,185.4 368.6,185.7 369.2,185.5 369.8,185.4 370.4,185.5 371.0,185.2 371.6,185.1 372.2,185.5 372.8,185.0 373.4,184.9 374.0,185.2 374.6,185.3 375.2,185.3 375.8,185.1 376.4,185.3 377.0,185.1 377.6,185.1 378.2,185.3 378.8,185.3 379.4,185.2 380.0,185.3 380.6,185.5 381.2,185.2 381.8,185.2 382.4,185.5 383.0,185.7 383.6,185.1 384.2,185.0 384.8,185.3 385.4,185.1 386.0,184.8 386.6,185.1 387.2,185.0 387.8,184.9 388.4,185.3 389.0,184.9 389.6,184.5 390.2,184.6 390.8,184.7 391.4,185.2 392.0,185.5 392.6,184.8 393.2,184.3 393.8,184.7 394.4,185.1 395.0,185.0 395.6,184.5 396.2,184.4 396.8,184.5 397.4,184.3 398.0,184.1 398.6,184.1 399.2,184.2 399.8,184.0 400.4,183.8 401.0,183.4 401.6,183.2 402.2,183.5 402.8,183.4 403.4,182.6 404.0,182.7 404.6,182.8 405.2,182.6 405.8,182.1 406.4,181.1 407.0,180.3 407.6,179.9 408.2,179.9 408.8,178.5 409.4,176.5 410.0,175.1 410.6,172.8 411.2,169.4 411.8,164.8 412.4,158.1 413.0,148.9 413.6,135.9 414.2,119.3 414.8,100.2 415.4,82.5 416.0,72.8 416.6,76.4 417.2,92.0 417.8,111.2 418.4,129.0 419.0,143.7 419.6,154.8 420.2,162.7 420.8,168.1 421.4,171.7 422.0,174.0 422.6,175.8 423.2,177.3 423.8,178.4 424.4,179.2 425.0,180.2 425.6,180.9 426.2,181.4 426.8,181.4 427.4,181.8 428.0,182.5 428.6,183.0 429.2,183.3 429.8,183.2 430.4,183.1 431.0,183.7 431.6,184.2 432.2,184.2 432.8,184.6 433.4,184.2 434.0,183.9 434.6,184.2 435.2,184.3 435.8,184.4 436.4,184.3 437.0,184.3 437.6,184.0 438.2,183.9 438.8,184.1 439.4,184.1 440.0,184.2 440.6,184.2 441.2,184.5 441.8,184.4 442.4,184.2 443.0,184.1 443.6,183.8 444.2,183.3 444.8,182.3 445.4,181.3 446.0,181.5 446.6,182.4 447.2,182.7 447.8,182.8 448.4,182.7 449.0,182.2 449.6,181.9 450.2,181.5 450.8,181.1 451.4,180.4 452.0,179.3 452.6,178.2 453.2,177.2 453.8,175.4 454.4,172.0 455.0,167.6 455.6,161.1 456.2,152.2 456.8,139.8 457.4,124.4 458.0,109.4 458.6,98.9 459.2,100.1 459.8,112.3 460.4,128.1 461.0,142.6 461.6,154.5 462.2,163.0 462.8,168.9 463.4,172.8 464.0,175.6 464.6,177.3 465.2,178.7 465.8,179.8 466.4,180.2 467.0,181.0 467.6,182.0 468.2,182.5 468.8,182.4 469.4,182.6 470.0,182.8 470.6,182.9 471.2,183.1 471.8,182.7 472.4,182.8 473.0,183.1 473.6,183.0 474.2,182.9 474.8,182.7 475.4,182.7 476.0,183.0 476.6,183.4 477.2,183.1 477.8,182.7 478.4,182.4 479.0,181.5 479.6,181.1 480.2,181.0 480.8,180.2 481.4,179.3 482.0,178.3 482.6,176.5 483.2,173.7 483.8,170.4 484.4,165.8 485.0,158.8 485.6,149.7 486.2,138.4 486.8,125.0 487.4,113.4 488.0,108.6 488.6,113.0 489.2,124.2 489.8,137.1 490.4,149.0 491.0,159.0 491.6,166.2 492.2,170.8 492.8,174.3 493.4,177.1 494.0,178.8 494.6,179.7 495.2,180.9 495.8,181.5 496.4,181.9 497.0,182.6 497.6,182.7 498.2,183.3 498.8,183.9 499.4,183.7 500.0,184.0 500.6,184.3 501.2,184.0 501.8,184.1 502.4,184.7 503.0,185.0 503.6,185.1 504.2,185.1 504.8,185.2 505.4,185.3 506.0,185.5 506.6,185.6 507.2,185.5 507.8,185.6 508.4,185.4 509.0,185.2 509.6,185.8 510.2,186.0 510.8,185.7 511.4,185.7 512.0,185.7 512.6,185.8 513.2,185.8 513.8,185.8 514.4,185.6 515.0,185.9 515.6,186.1 516.2,185.5 516.8,185.6 517.4,185.9 518.0,186.0 518.6,185.8 519.2,185.9 519.8,186.9 520.4,186.6" fill="none" stroke="#111" stroke-width="1.4" stroke-linejoin="round"/>
<path d="M338.0,185.2 338.6,185.4 339.2,185.6 339.8,185.5 340.4,185.7 341.0,185.3 341.6,184.9 342.2,184.8 342.8,184.9 343.4,185.4 344.0,185.4 344.6,185.3 345.2,184.9 345.8,184.9 346.4,185.1 347.0,185.4 347.6,185.8 348.2,185.6 348.8,185.4 349.4,185.4 350.0,185.5 350.6,185.3 351.2,185.1 351.8,185.1 352.4,185.1 353.0,185.0 353.6,185.1 354.2,185.1 354.8,185.3 355.4,185.1 356.0,185.1 356.6,185.3 357.2,185.0 357.8,184.9 358.4,185.0 359.0,185.2 359.6,185.3 360.2,185.2 360.8,185.2 361.4,185.6 362.0,185.7 362.6,185.2 363.2,185.3 363.8,185.4 364.4,185.4 365.0,185.5 365.6,185.3 366.2,184.8 366.8,184.8 367.4,185.3 368.0,185.3 368.6,185.3 369.2,185.5 369.8,185.3 370.4,185.4 371.0,185.8 371.6,185.8 372.2,185.7 372.8,185.7 373.4,185.9 374.0,185.7 374.6,185.3 375.2,185.4 375.8,185.2 376.4,184.7 377.0,184.7 377.6,185.1 378.2,185.4 378.8,185.0 379.4,184.5 380.0,184.8 380.6,185.1 381.2,185.1 381.8,185.3 382.4,185.5 383.0,185.4 383.6,185.3 384.2,185.0 384.8,184.7 385.4,184.9 386.0,185.3 386.6,185.3 387.2,185.3 387.8,185.3 388.4,185.3 389.0,184.8 389.6,184.5 390.2,184.9 390.8,185.1 391.4,184.7 392.0,184.8 392.6,185.0 393.2,184.7 393.8,184.8 394.4,184.9 395.0,184.5 395.6,184.5 396.2,184.8 396.8,184.4 397.4,184.2 398.0,183.9 398.6,183.7 399.2,184.1 399.8,184.0 400.4,183.8 401.0,183.8 401.6,183.7 402.2,183.8 402.8,183.6 403.4,183.1 404.0,183.0 404.6,183.2 405.2,182.7 405.8,182.0 406.4,181.3 407.0,181.0 407.6,180.8 408.2,180.1 408.8,179.0 409.4,177.3 410.0,175.9 410.6,174.1 411.2,170.8 411.8,166.1 412.4,160.4 413.0,152.4 413.6,142.1 414.2,128.9 414.8,113.7 415.4,100.7 416.0,93.7 416.6,96.4 417.2,108.1 417.8,122.6 418.4,136.2 419.0,147.7 419.6,157.2 420.2,164.4 420.8,169.3 421.4,172.6 422.0,175.1 422.6,177.0 423.2,178.2 423.8,179.2 424.4,179.8 425.0,180.1 425.6,181.0 426.2,181.7 426.8,181.9 427.4,182.3 428.0,183.0 428.6,183.3 429.2,183.3 429.8,183.6 430.4,183.8 431.0,183.5 431.6,183.5 432.2,184.1 432.8,184.0 433.4,183.8 434.0,184.1 434.6,183.9 435.2,183.9 435.8,184.1 436.4,184.4 437.0,184.5 437.6,184.1 438.2,184.0 438.8,184.4 439.4,184.6 440.0,184.7 440.6,184.6 441.2,184.7 441.8,184.6 442.4,184.2 443.0,184.0 443.6,183.8 444.2,182.9 444.8,181.8 445.4,181.6 446.0,181.8 446.6,181.9 447.2,182.5 447.8,183.3 448.4,183.3 449.0,182.8 449.6,182.5 450.2,182.0 450.8,181.8 451.4,181.4 452.0,180.4 452.6,179.4 453.2,178.3 453.8,176.2 454.4,173.4 455.0,169.6 455.6,163.9 456.2,156.5 456.8,146.8 457.4,135.0 458.0,123.4 458.6,116.2 459.2,117.7 459.8,126.0 460.4,137.3 461.0,148.7 461.6,158.1 462.2,165.4 462.8,170.3 463.4,173.7 464.0,176.4 464.6,178.2 465.2,179.4 465.8,180.2 466.4,181.0 467.0,181.9 467.6,182.3 468.2,182.2 468.8,182.5 469.4,182.9 470.0,183.1 470.6,183.6 471.2,183.5 471.8,183.2 472.4,183.2 473.0,183.1 473.6,183.2 474.2,183.5 474.8,183.6 475.4,183.1 476.0,183.3 476.6,183.0 477.2,182.6 477.8,182.8 478.4,182.5 479.0,181.8 479.6,181.2 480.2,180.6 480.8,180.1 481.4,178.7 482.0,177.2 482.6,175.9 483.2,173.4 483.8,169.5 484.4,164.6 485.0,158.0 485.6,149.4 486.2,139.1 486.8,127.5 487.4,117.1 488.0,112.9 488.6,116.7 489.2,126.3 489.8,138.4 490.4,149.1 491.0,158.2 491.6,165.4 492.2,170.3 492.8,173.5 493.4,176.0 494.0,177.8 494.6,179.3 495.2,180.7 495.8,181.6 496.4,182.2 497.0,182.1 497.6,182.6 498.2,183.5 498.8,184.1 499.4,184.0 500.0,183.7 500.6,184.1 501.2,184.2 501.8,184.1 502.4,184.2 503.0,185.1 503.6,185.3 504.2,184.7 504.8,184.9 505.4,185.1 506.0,185.6 506.6,185.8 507.2,185.8 507.8,185.7 508.4,185.6 509.0,185.5 509.6,185.2 510.2,185.8 510.8,186.0 511.4,185.9 512.0,185.9 512.6,185.7 513.2,185.8 513.8,185.6 514.4,185.6 515.0,186.0 515.6,186.2 516.2,186.2 516.8,186.3 517.4,186.3 518.0,186.1 518.6,185.7 519.2,185.6 519.8,186.3 520.4,186.5" fill="none" stroke="#e01818" stroke-width="1.4" stroke-linejoin="round"/>
<path d="M338.0,185.6 338.6,185.0 339.2,184.8 339.8,185.4 340.4,185.5 341.0,185.6 341.6,185.7 342.2,185.6 342.8,185.1 343.4,185.2 344.0,185.4 344.6,185.2 345.2,185.1 345.8,185.3 346.4,185.5 347.0,185.3 347.6,185.1 348.2,184.8 348.8,185.2 349.4,185.5 350.0,185.5 350.6,185.6 351.2,185.7 351.8,185.9 352.4,185.6 353.0,185.6 353.6,185.4 354.2,185.3 354.8,185.2 355.4,185.0 356.0,185.5 356.6,185.5 357.2,185.2 357.8,185.0 358.4,185.0 359.0,185.4 359.6,185.7 360.2,185.4 360.8,185.0 361.4,185.2 362.0,185.1 362.6,184.9 363.2,185.0 363.8,185.3 364.4,185.5 365.0,185.4 365.6,185.4 366.2,185.2 366.8,185.3 367.4,185.7 368.0,185.6 368.6,185.4 369.2,185.4 369.8,185.5 370.4,185.6 371.0,185.6 371.6,185.5 372.2,185.7 372.8,185.5 373.4,185.1 374.0,185.1 374.6,185.3 375.2,185.3 375.8,185.0 376.4,185.3 377.0,185.6 377.6,185.6 378.2,184.8 378.8,184.5 379.4,184.8 380.0,184.8 380.6,184.9 381.2,185.5 381.8,185.5 382.4,185.0 383.0,185.2 383.6,185.3 384.2,185.2 384.8,185.0 385.4,185.0 386.0,185.2 386.6,184.8 387.2,184.4 387.8,185.0 388.4,185.4 389.0,185.1 389.6,184.7 390.2,184.7 390.8,184.7 391.4,184.6 392.0,185.2 392.6,185.2 393.2,185.1 393.8,185.0 394.4,184.8 395.0,185.1 395.6,184.7 396.2,184.3 396.8,184.5 397.4,184.5 398.0,184.8 398.6,184.8 399.2,184.1 399.8,183.8 400.4,183.8 401.0,183.6 401.6,184.0 402.2,183.8 402.8,183.3 403.4,183.2 404.0,183.1 404.6,183.0 405.2,182.6 405.8,182.1 406.4,181.9 407.0,181.3 407.6,180.3 408.2,179.6 408.8,179.1 409.4,178.1 410.0,176.0 410.6,173.9 411.2,171.7 411.8,167.7 412.4,161.9 413.0,154.8 413.6,145.4 414.2,134.1 414.8,122.3 415.4,112.1 416.0,106.5 416.6,109.2 417.2,118.4 417.8,129.4 418.4,140.7 419.0,150.6 419.6,158.9 420.2,165.3 420.8,169.8 421.4,172.9 422.0,175.3 422.6,177.7 423.2,178.9 423.8,179.6 424.4,180.5 425.0,181.2 425.6,181.9 426.2,182.2 426.8,182.2 427.4,182.6 428.0,183.0 428.6,183.0 429.2,183.3 429.8,183.7 430.4,183.6 431.0,183.6 431.6,184.5 432.2,184.7 432.8,184.3 433.4,184.7 434.0,184.6 434.6,183.7 435.2,183.5 435.8,183.7 436.4,184.2 437.0,184.7 437.6,184.2 438.2,184.3 438.8,184.5 439.4,184.3 440.0,184.6 440.6,184.6 441.2,184.5 441.8,184.4 442.4,184.1 443.0,184.1 443.6,184.3 444.2,183.8 444.8,182.6 445.4,181.0 446.0,180.9 446.6,182.6 447.2,183.5 447.8,183.2 448.4,182.6 449.0,182.9 449.6,183.2 450.2,182.8 450.8,182.2 451.4,181.6 452.0,181.4 452.6,180.6 453.2,178.8 453.8,177.0 454.4,175.2 455.0,171.9 455.6,166.6 456.2,160.5 456.8,153.4 457.4,145.6 458.0,138.1 458.6,132.9 459.2,133.2 459.8,139.0 460.4,147.4 461.0,155.5 461.6,162.6 462.2,168.1 462.8,172.7 463.4,175.4 464.0,177.2 464.6,179.0 465.2,180.2 465.8,181.1 466.4,181.6 467.0,182.3 467.6,182.6 468.2,183.0 468.8,182.9 469.4,183.1 470.0,183.5 470.6,183.5 471.2,183.9 471.8,184.1 472.4,184.2 473.0,183.6 473.6,183.0 474.2,183.6 474.8,183.5 475.4,183.2 476.0,183.6 476.6,183.7 477.2,183.0 477.8,182.6 478.4,182.7 479.0,182.2 479.6,181.7 480.2,181.1 480.8,180.2 481.4,179.3 482.0,178.1 482.6,176.5 483.2,174.4 483.8,170.9 484.4,166.6 485.0,161.0 485.6,153.5 486.2,144.9 486.8,135.9 487.4,128.3 488.0,125.2 488.6,128.0 489.2,135.4 489.8,143.9 490.4,152.4 491.0,160.0 491.6,165.9 492.2,170.9 492.8,174.4 493.4,177.0 494.0,178.8 494.6,179.3 495.2,180.0 495.8,181.6 496.4,182.8 497.0,183.0 497.6,182.7 498.2,183.5 498.8,183.7 499.4,183.6 500.0,184.2 500.6,184.4 501.2,184.3 501.8,184.3 502.4,184.9 503.0,185.0 503.6,184.6 504.2,184.8 504.8,185.2 505.4,185.2 506.0,185.1 506.6,185.3 507.2,185.5 507.8,185.2 508.4,185.3 509.0,185.6 509.6,185.6 510.2,185.3 510.8,185.2 511.4,185.7 512.0,186.0 512.6,186.0 513.2,185.9 513.8,186.0 514.4,186.2 515.0,186.5 515.6,186.4 516.2,185.9 516.8,186.0 517.4,185.7 518.0,185.7 518.6,186.0 519.2,186.0 519.8,186.2 520.4,186.2" fill="none" stroke="#2424c0" stroke-width="1.5" stroke-linejoin="round"/>
<path d="M57.4,920.5 58.0,920.3 58.6,920.4 59.2,920.3 59.8,920.4 60.4,920.1 61.0,920.0 61.6,920.0 62.2,920.2 62.8,920.4 63.4,920.5 64.0,920.2 64.6,920.0 65.2,920.1 65.8,920.4 66.4,920.8 67.0,920.8 67.6,920.6 68.2,920.5 68.8,920.4 69.4,920.5 70.0,920.3 70.6,920.2 71.2,920.2 71.8,920.4 72.4,920.4 73.0,920.6 73.6,920.4 74.2,920.4 74.8,920.3 75.4,920.3 76.0,920.1 76.6,920.2 77.2,920.3 77.8,920.4 78.4,920.4 79.0,920.2 79.6,920.3 80.2,920.2 80.8,920.3 81.4,920.3 82.0,920.4 82.6,920.5 83.2,920.2 83.8,920.2 84.4,920.0 85.0,920.1 85.6,920.1 86.2,920.3 86.8,920.2 87.4,920.4 88.0,920.6 88.6,920.5 89.2,920.4 89.8,920.1 90.4,920.1 91.0,920.0 91.6,920.2 92.2,920.2 92.8,920.1 93.4,920.1 94.0,920.1 94.6,920.1 95.2,920.2 95.8,920.4 96.4,920.5 97.0,920.4 97.6,920.3 98.2,920.2 98.8,920.2 99.4,920.0 100.0,920.2 100.6,920.2 101.2,920.3 101.8,920.3 102.4,920.3 103.0,920.5 103.6,920.5 104.2,920.4 104.8,920.2 105.4,920.2 106.0,920.3 106.6,920.4 107.2,920.6 107.8,920.4 108.4,920.4 109.0,920.5 109.6,920.5 110.2,920.4 110.8,920.1 111.4,920.2 112.0,920.1 112.6,920.2 113.2,920.2 113.8,920.3 114.4,920.2 115.0,920.1 115.6,920.1 116.2,920.3 116.8,920.1 117.4,920.1 118.0,920.0 118.6,920.4 119.2,920.3 119.8,920.0 120.4,919.6 121.0,919.8 121.6,920.2 122.2,920.6 122.8,920.6 123.4,920.4 124.0,920.3 124.6,920.3 125.2,920.3 125.8,920.2 126.4,920.4 127.0,920.3 127.6,920.2 128.2,920.0 128.8,920.1 129.4,920.2 130.0,920.1 130.6,920.1 131.2,920.4 131.8,920.5 132.4,920.6 133.0,920.6 133.6,920.3 134.2,920.0 134.8,919.8 135.4,919.9 136.0,919.9 136.6,920.0 137.2,920.0 137.8,920.1 138.4,919.8 139.0,919.9 139.6,920.1 140.2,920.2 140.8,920.4 141.4,920.3 142.0,920.3 142.6,920.3 143.2,920.3 143.8,920.4 144.4,920.3 145.0,920.1 145.6,919.9 146.2,919.9 146.8,920.1 147.4,920.2 148.0,920.2 148.6,920.1 149.2,920.3 149.8,920.3 150.4,920.5 151.0,920.2 151.6,920.2 152.2,920.1 152.8,920.3 153.4,920.3 154.0,920.2 154.6,920.0 155.2,920.2 155.8,920.3 156.4,920.3 157.0,920.3 157.6,920.2 158.2,920.2 158.8,920.2 159.4,920.2 160.0,920.2 160.6,920.3 161.2,920.4 161.8,920.5 162.4,920.4 163.0,920.2 163.6,920.0 164.2,920.0 164.8,920.2 165.4,920.3 166.0,920.4 166.6,920.4 167.2,920.3 167.8,920.1 168.4,920.2 169.0,920.2 169.6,920.2 170.2,919.9 170.8,919.9 171.4,920.2 172.0,920.4 172.6,920.3 173.2,920.1 173.8,920.0 174.4,920.3 175.0,920.3 175.7,920.2 176.3,920.2 176.9,920.1 177.5,919.9 178.1,919.8 178.7,919.8 179.3,920.1 179.9,920.3 180.5,920.3 181.1,920.2 181.7,920.1 182.3,920.0 182.9,919.8 183.5,919.7 184.1,919.9 184.7,920.1 185.3,919.7 185.9,919.7 186.5,919.7 187.1,919.9 187.7,919.9 188.3,919.8 188.9,919.9 189.5,920.0 190.1,920.0 190.7,920.0 191.3,919.9 191.9,919.8 192.5,919.7 193.1,919.7 193.7,919.6 194.3,919.5 194.9,919.6 195.5,919.7 196.1,919.9 196.7,920.0 197.3,919.9 197.9,919.8 198.5,919.7 199.1,919.7 199.7,919.4 200.3,919.0 200.9,918.8 201.5,918.6 202.1,918.5 202.7,918.4 203.3,918.3 203.9,918.1 204.5,917.6 205.1,917.1 205.7,916.4 206.3,915.6 206.9,914.2 207.5,912.3 208.1,909.3 208.7,904.8 209.3,898.4 209.9,890.0 210.5,880.0 211.1,870.4 211.7,864.6 212.3,865.9 212.9,873.2 213.5,883.0 214.1,892.4 214.7,900.2 215.3,906.4 215.9,910.7 216.5,913.2 217.1,914.8 217.7,915.7 218.3,916.7 218.9,917.3 219.5,917.8 220.1,918.0 220.7,918.2 221.3,918.6 221.9,918.8 222.5,918.8 223.1,918.9 223.7,919.1 224.3,919.2 224.9,919.2 225.5,919.2 226.1,918.9 226.7,919.1 227.3,919.3 227.9,919.4 228.5,919.3 229.1,919.3 229.7,919.5 230.3,919.4 230.9,919.4 231.5,919.2 232.1,919.6 232.7,919.3 233.3,919.4 233.9,919.2 234.5,919.2 235.1,919.2 235.7,919.2 236.3,919.0 236.9,918.9 237.5,918.8 238.1,918.6 238.7,918.1 239.3,917.5 239.9,916.9 240.5,915.9 241.1,914.4 241.7,911.8 242.3,907.8 242.9,901.8 243.5,894.1 244.1,885.6 244.7,879.0 245.3,877.9 245.9,883.4 246.5,891.7 247.1,899.9 247.7,906.0 248.3,910.7 248.9,913.4 249.5,915.3 250.1,916.3 250.7,917.0 251.3,917.7 251.9,918.2 252.5,918.6 253.1,918.6 253.7,918.9 254.3,919.0 254.9,919.1 255.5,918.8 256.1,918.7 256.7,918.8 257.3,918.8 257.9,918.7 258.5,918.6 259.1,918.4 259.7,918.2 260.3,917.9 260.9,917.5 261.5,916.9 262.1,916.0 262.7,914.7 263.3,912.9 263.9,910.2 264.5,905.8 265.1,899.5 265.7,891.8 266.3,883.9 266.9,877.8 267.5,876.1 268.1,879.8 268.7,887.0 269.3,894.9 269.9,902.2 270.5,907.7 271.1,911.7 271.7,914.4 272.3,915.8 272.9,916.8 273.5,917.3 274.1,918.0 274.7,918.5 275.3,918.7 275.9,919.1 276.5,919.3 277.1,919.6 277.7,919.6 278.3,919.5 278.9,919.2 279.5,919.3 280.1,919.5 280.7,919.9 281.3,919.8 281.9,919.8 282.5,920.0 283.1,920.3 283.7,920.4 284.3,920.2 284.9,920.3 285.5,920.4 286.1,920.5 286.7,920.4 287.3,920.3 287.9,920.2 288.5,920.2 289.1,920.2 289.7,920.3 290.3,920.3 290.9,920.4 291.5,920.5 292.1,920.6 292.7,920.4 293.3,920.3 293.9,920.3 294.5,920.3 295.1,920.2 295.7,920.0 296.3,920.0 296.9,920.4 297.5,920.5 298.1,920.6 298.7,920.5 299.3,920.6 299.9,920.6 300.5,920.7 301.1,920.8 301.7,920.6 302.3,920.5 302.9,920.4 303.5,920.8 304.1,920.7 304.7,920.8 305.3,920.9 305.9,921.1 306.5,921.2 307.1,921.1 307.7,921.0 308.3,920.9 308.9,920.7 309.5,920.8 310.1,920.7 310.7,920.9 311.3,920.7 311.9,920.7 312.5,920.4 313.1,920.4 313.7,920.3 314.3,920.4 314.9,920.1 315.5,920.1 316.1,920.3 316.7,920.4 317.3,920.6 317.9,920.5 318.5,920.5 319.1,920.4 319.7,920.3 320.3,920.4 320.9,920.2 321.5,920.3 322.1,920.5 322.7,920.9 323.3,921.0 323.9,921.0 324.5,920.7 325.1,920.7 325.7,920.7 326.3,920.9 326.9,920.6 327.5,920.6 328.1,920.7 328.7,921.0 329.3,920.9 329.9,920.8 330.5,920.7 331.1,920.8 331.7,920.8 332.3,920.8 332.9,920.8 333.5,920.8 334.1,920.7 334.7,920.5 335.3,920.6 335.9,920.6 336.5,920.8 337.1,920.5 337.7,920.7 338.3,920.6 338.9,921.0 339.5,920.6 340.1,920.4 340.7,920.4 341.3,920.7 341.9,920.9 342.5,920.8 343.1,920.8 343.7,920.8 344.3,920.7 344.9,920.7 345.5,920.8 346.1,920.9 346.7,920.8 347.3,920.7 347.9,920.8 348.5,920.9 349.1,920.8 349.7,920.8 350.3,920.9 350.9,921.1 351.5,921.0 352.1,921.0 352.7,920.9 353.3,920.7 353.9,920.7 354.5,920.6 355.1,920.8 355.7,920.7 356.3,920.7 356.9,920.9 357.5,921.0 358.1,920.8 358.7,920.7 359.3,920.9 359.9,921.1 360.5,921.1 361.1,920.8 361.7,920.5 362.3,920.5 362.9,920.6 363.5,920.7 364.1,920.7 364.7,920.7 365.3,920.7 365.9,920.6 366.5,920.9 367.1,920.9 367.7,921.2 368.3,920.8 368.9,920.6 369.5,920.6 370.1,920.9 370.7,920.7 371.3,920.8 371.9,920.7 372.5,921.1 373.1,920.8 373.7,920.8 374.3,920.6 374.9,920.8 375.5,921.0 376.1,921.2 376.7,921.2 377.3,921.0 377.9,920.8 378.5,920.6 379.1,920.8 379.7,921.1 380.3,921.1 380.9,921.0 381.5,920.8 382.1,920.6 382.7,920.6 383.3,920.6 383.9,920.8 384.5,920.8 385.1,920.5 385.7,920.6 386.3,920.7 386.9,920.9 387.5,921.0 388.1,920.9 388.7,920.8 389.3,920.7 389.9,920.6 390.5,921.0 391.1,921.0 391.7,920.9 392.3,920.4 392.9,920.5 393.5,920.7 394.1,920.9 394.7,920.6 395.3,920.4 395.9,920.2 396.5,920.4 397.1,920.4 397.7,920.7 398.3,920.6 398.9,920.5 399.5,920.4 400.1,920.0 400.7,919.8 401.3,919.4 401.9,919.5 402.5,919.4 403.1,918.9 403.7,917.8 404.3,916.5 404.9,914.8 405.5,913.3 406.1,911.1 406.7,909.0 407.3,907.3 407.9,906.7 408.5,907.5 409.1,909.1 409.7,911.4 410.3,913.5 410.9,915.4 411.5,916.9 412.2,917.9 412.8,918.9 413.4,919.3 414.0,919.8 414.6,919.8 415.2,919.8 415.8,920.0 416.4,920.1 417.0,920.3 417.6,920.2 418.2,920.1 418.8,920.3 419.4,920.6 420.0,921.0 420.6,920.8 421.2,920.5 421.8,920.4 422.4,920.8 423.0,921.0 423.6,921.1 424.2,920.7 424.8,920.7 425.4,920.7 426.0,920.8 426.6,920.8 427.2,920.8 427.8,920.8 428.4,920.8 429.0,920.8 429.6,920.9 430.2,920.9 430.8,920.9 431.4,920.8 432.0,921.0 432.6,920.9 433.2,921.0 433.8,920.8 434.4,920.8 435.0,920.9 435.6,921.2 436.2,921.1 436.8,921.0 437.4,921.0 438.0,920.8 438.6,921.1 439.2,920.8 439.8,921.2 440.4,921.0 441.0,921.2 441.6,921.0 442.2,921.0 442.8,921.0 443.4,920.9 444.0,921.0 444.6,920.8 445.2,920.8 445.8,920.7 446.4,920.8 447.0,921.1 447.6,921.0 448.2,920.9 448.8,920.7 449.4,920.7 450.0,920.9 450.6,920.9 451.2,920.9 451.8,920.8 452.4,920.9 453.0,920.7 453.6,920.9 454.2,921.0 454.8,921.1 455.4,921.0 456.0,920.8 456.6,921.0 457.2,921.1 457.8,921.5 458.4,921.4 459.0,921.2 459.6,920.8 460.2,920.7 460.8,920.9 461.4,920.9 462.0,921.2 462.6,921.2 463.2,921.1 463.8,921.2 464.4,921.2 465.0,921.4 465.6,921.1 466.2,920.9 466.8,920.7 467.4,920.8 468.0,920.7 468.6,920.9 469.2,920.9 469.8,921.3 470.4,921.2 471.0,921.4 471.6,921.4 472.2,921.3 472.8,921.1 473.4,921.0 474.0,921.2 474.6,921.1 475.2,921.0 475.8,920.8 476.4,921.2 477.0,921.2 477.6,921.1 478.2,920.9 478.8,921.4 479.4,921.3 480.0,921.3 480.6,921.0 481.2,921.1 481.8,921.1 482.4,921.1 483.0,921.1 483.6,921.1 484.2,921.3 484.8,921.3 485.4,921.2 486.0,920.9 486.6,921.0 487.2,921.1 487.8,921.2 488.4,921.2 489.0,921.4 489.6,921.3 490.2,921.1 490.8,920.9 491.4,920.9 492.0,921.1 492.6,921.2 493.2,921.3 493.8,921.2 494.4,921.1 495.0,921.1 495.6,921.1 496.2,921.0 496.8,921.0 497.4,921.0 498.0,920.9 498.6,920.9 499.2,920.8 499.8,920.9 500.4,920.9 501.0,920.8 501.6,920.9 502.2,920.7 502.8,920.6 503.4,920.6 504.0,920.9 504.6,920.9 505.2,921.0 505.8,920.9 506.4,921.1 507.0,920.8 507.6,920.6 508.2,920.5 508.8,920.6 509.4,920.6 510.0,920.4 510.6,920.3 511.2,920.2 511.8,919.9 512.4,919.7 513.0,919.5 513.6,919.1 514.2,918.7 514.8,918.2 515.4,917.3 516.0,915.9 516.6,914.3 517.2,912.0 517.8,909.7 518.4,906.7 519.0,904.1 519.6,901.7 520.2,900.2 520.8,900.4 521.4,901.5 522.0,903.8 522.6,906.1 523.2,909.0 523.8,911.5 524.4,913.8 525.0,915.6 525.6,917.1 526.2,918.1 526.8,918.8 527.4,919.2 528.0,919.4 528.6,919.4 529.2,919.7 529.8,920.0" fill="none" stroke="#cc4c4c" stroke-width="1.35" stroke-linejoin="round"/>
<path d="M57.4,868.4 58.0,868.3 58.6,868.4 59.2,868.6 59.8,868.6 60.4,868.8 61.0,868.7 61.6,868.9 62.2,868.7 62.8,868.6 63.4,868.8 64.0,869.0 64.6,869.1 65.2,869.1 65.8,868.9 66.4,868.7 67.0,868.4 67.6,868.3 68.2,868.4 68.8,868.6 69.4,868.5 70.0,868.6 70.6,868.6 71.2,868.7 71.8,868.5 72.4,868.7 73.0,868.8 73.6,868.8 74.2,868.5 74.8,868.7 75.4,868.7 76.0,868.9 76.6,868.9 77.2,868.7 77.8,868.7 78.4,868.6 79.0,868.7 79.6,868.5 80.2,868.6 80.8,868.7 81.4,868.8 82.0,868.7 82.6,868.8 83.2,868.9 83.8,869.1 84.4,869.1 85.0,869.1 85.6,869.1 86.2,869.1 86.8,869.0 87.4,868.9 88.0,868.9 88.6,868.9 89.2,868.6 89.8,868.6 90.4,868.5 91.0,868.5 91.6,868.4 92.2,868.5 92.8,868.6 93.4,868.7 94.0,868.6 94.6,868.6 95.2,868.6 95.8,868.5 96.4,868.5 97.0,868.5 97.6,868.6 98.2,868.8 98.8,868.9 99.4,869.0 100.0,868.9 100.6,869.0 101.2,868.9 101.8,868.8 102.4,868.7 103.0,868.7 103.6,868.6 104.2,868.7 104.8,868.7 105.4,868.8 106.0,868.7 106.6,868.4 107.2,868.5 107.8,868.5 108.4,868.6 109.0,868.5 109.6,868.5 110.2,868.7 110.8,868.6 111.4,868.8 112.0,868.8 112.6,868.8 113.2,868.7 113.8,868.8 114.4,868.7 115.0,868.8 115.6,868.7 116.2,868.8 116.8,868.7 117.4,868.6 118.0,868.6 118.6,868.7 119.2,868.7 119.8,868.7 120.4,868.7 121.0,868.9 121.6,868.9 122.2,868.8 122.8,868.9 123.4,868.9 124.0,868.9 124.6,868.9 125.2,868.6 125.8,868.7 126.4,868.6 127.0,868.6 127.6,868.4 128.2,868.4 128.8,868.3 129.4,868.3 130.0,868.4 130.6,868.6 131.2,868.6 131.8,868.5 132.4,868.5 133.0,868.6 133.6,868.5 134.2,868.5 134.8,868.4 135.4,868.5 136.0,868.4 136.6,868.6 137.2,868.6 137.8,868.6 138.4,868.5 139.0,868.7 139.6,868.9 140.2,868.7 140.8,868.8 141.4,868.7 142.0,868.9 142.6,868.9 143.2,868.8 143.8,868.7 144.4,868.5 145.0,868.6 145.6,868.8 146.2,868.8 146.8,868.7 147.4,868.8 148.0,868.7 148.6,868.8 149.2,868.5 149.8,868.5 150.4,868.6 151.0,868.7 151.6,868.8 152.2,868.7 152.8,868.6 153.4,868.5 154.0,868.5 154.6,868.4 155.2,868.5 155.8,868.5 156.4,868.7 157.0,868.7 157.6,868.8 158.2,868.9 158.8,869.0 159.4,868.9 160.0,868.7 160.6,868.7 161.2,868.6 161.8,868.7 162.4,868.8 163.0,868.8 163.6,868.7 164.2,868.6 164.8,868.6 165.4,868.5 166.0,868.5 166.6,868.6 167.2,868.7 167.8,868.8 168.4,868.9 169.0,868.9 169.6,868.9 170.2,868.7 170.8,868.7 171.4,868.7 172.0,868.8 172.6,868.7 173.2,868.5 173.8,868.6 174.4,868.6 175.0,868.8 175.7,868.8 176.3,868.9 176.9,868.8 177.5,868.8 178.1,868.9 178.7,868.8 179.3,868.8 179.9,868.7 180.5,868.8 181.1,868.8 181.7,868.9 182.3,869.0 182.9,868.9 183.5,868.8 184.1,868.7 184.7,868.8 185.3,868.7 185.9,868.7 186.5,868.6 187.1,868.6 187.7,868.6 188.3,868.9 188.9,868.9 189.5,868.9 190.1,868.7 190.7,868.7 191.3,868.7 191.9,868.8 192.5,868.8 193.1,868.9 193.7,868.8 194.3,868.7 194.9,868.5 195.5,868.3 196.1,868.3 196.7,868.4 197.3,868.4 197.9,868.5 198.5,868.2 199.1,868.2 199.7,868.0 200.3,868.2 200.9,868.0 201.5,868.0 202.1,867.6 202.7,867.4 203.3,867.0 203.9,866.6 204.5,866.3 205.1,865.8 205.7,865.3 206.3,864.5 206.9,863.7 207.5,862.6 208.1,861.4 208.7,860.1 209.3,858.8 209.9,857.6 210.5,856.2 211.1,854.9 211.7,853.5 212.3,852.6 212.9,852.0 213.5,851.9 214.1,852.2 214.7,853.2 215.3,854.4 215.9,855.7 216.5,857.0 217.1,858.6 217.7,860.0 218.3,861.3 218.9,862.3 219.5,863.3 220.1,863.9 220.7,864.9 221.3,865.6 221.9,866.5 222.5,866.9 223.1,867.3 223.7,867.2 224.3,867.3 224.9,867.4 225.5,867.7 226.1,867.9 226.7,867.8 227.3,867.9 227.9,868.1 228.5,868.3 229.1,868.3 229.7,868.3 230.3,868.5 230.9,868.4 231.5,868.3 232.1,868.1 232.7,868.3 233.3,868.3 233.9,868.2 234.5,868.1 235.1,868.0 235.7,867.9 236.3,867.6 236.9,867.3 237.5,867.2 238.1,867.0 238.7,866.5 239.3,866.0 239.9,865.4 240.5,864.9 241.1,864.1 241.7,863.0 242.3,861.9 242.9,860.6 243.5,859.1 244.1,857.3 244.7,855.8 245.3,854.5 245.9,853.6 246.5,853.0 247.1,853.1 247.7,853.8 248.3,854.9 248.9,856.4 249.5,857.7 250.1,859.4 250.7,860.7 251.3,862.3 251.9,863.5 252.5,864.6 253.1,865.3 253.7,865.8 254.3,866.5 254.9,867.0 255.5,867.4 256.1,867.5 256.7,867.7 257.3,867.8 257.9,867.7 258.5,867.4 259.1,867.2 259.7,867.2 260.3,867.0 260.9,866.8 261.5,866.3 262.1,865.9 262.7,865.0 263.3,864.4 263.9,863.3 264.5,862.4 265.1,861.4 265.7,860.4 266.3,859.3 266.9,858.2 267.5,857.4 268.1,856.9 268.7,857.4 269.3,858.3 269.9,859.6 270.5,860.4 271.1,861.7 271.7,862.5 272.3,863.3 272.9,862.7 273.5,861.3 274.1,859.2 274.7,859.5 275.3,862.6 275.9,865.4 276.5,867.1 277.1,867.9 277.7,868.4 278.3,868.5 278.9,868.9 279.5,869.0 280.1,869.4 280.7,869.4 281.3,869.5 281.9,869.4 282.5,869.5 283.1,869.6 283.7,869.5 284.3,869.6 284.9,869.8 285.5,869.9 286.1,870.1 286.7,870.1 287.3,870.2 287.9,870.1 288.5,870.1 289.1,870.2 289.7,870.4 290.3,870.5 290.9,870.5 291.5,870.3 292.1,870.3 292.7,870.2 293.3,870.3 293.9,870.2 294.5,870.2 295.1,870.2 295.7,870.5 296.3,870.6 296.9,870.6 297.5,870.4 298.1,870.2 298.7,870.2 299.3,870.3 299.9,870.6 300.5,870.5 301.1,870.5 301.7,870.4 302.3,870.5 302.9,870.5 303.5,870.5 304.1,870.4 304.7,870.6 305.3,870.6 305.9,870.5 306.5,870.5 307.1,870.8 307.7,870.7 308.3,870.7 308.9,870.7 309.5,870.7 310.1,870.8 310.7,870.8 311.3,870.9 311.9,870.9 312.5,870.9 313.1,870.9 313.7,870.9 314.3,870.6 314.9,870.6 315.5,870.6 316.1,870.7 316.7,870.9 317.3,870.9 317.9,870.8 318.5,870.7 319.1,870.8 319.7,871.0 320.3,870.9 320.9,870.8 321.5,870.7 322.1,870.8 322.7,871.0 323.3,871.0 323.9,870.9 324.5,870.8 325.1,870.8 325.7,870.7 326.3,870.7 326.9,870.6 327.5,870.5 328.1,870.4 328.7,870.5 329.3,870.7 329.9,870.7 330.5,870.6 331.1,870.4 331.7,870.5 332.3,870.5 332.9,870.5 333.5,870.4 334.1,870.7 334.7,870.8 335.3,870.8 335.9,870.5 336.5,870.6 337.1,870.7 337.7,870.7 338.3,870.4 338.9,870.3 339.5,870.2 340.1,870.4 340.7,870.2 341.3,869.9 341.9,869.6 342.5,869.2 343.1,868.9 343.7,868.1 344.3,867.2 344.9,865.7 345.5,863.3 346.1,858.2 346.7,847.1 347.3,826.1 347.9,796.5 348.5,779.4 349.1,797.0 349.7,826.5 350.3,847.7 350.9,858.6 351.5,863.7 352.1,866.0 352.7,867.4 353.3,868.3 353.9,868.8 354.5,869.2 355.1,869.4 355.7,869.9 356.3,870.2 356.9,870.3 357.5,870.4 358.1,870.5 358.7,870.7 359.3,870.8 359.9,871.1 360.5,871.2 361.1,871.1 361.7,871.0 362.3,871.0 362.9,871.1 363.5,871.1 364.1,871.0 364.7,870.9 365.3,871.0 365.9,871.2 366.5,871.4 367.1,871.4 367.7,871.3 368.3,871.3 368.9,871.4 369.5,871.5 370.1,871.7 370.7,871.7 371.3,871.6 371.9,871.5 372.5,871.3 373.1,871.4 373.7,871.5 374.3,871.7 374.9,871.7 375.5,871.8 376.1,871.7 376.7,871.7 377.3,871.5 377.9,871.6 378.5,871.4 379.1,871.3 379.7,871.2 380.3,871.3 380.9,871.3 381.5,871.5 382.1,871.4 382.7,871.4 383.3,871.4 383.9,871.4 384.5,871.6 385.1,871.6 385.7,871.8 386.3,871.8 386.9,871.9 387.5,871.7 388.1,871.5 388.7,871.4 389.3,871.6 389.9,871.5 390.5,871.6 391.1,871.6 391.7,871.4 392.3,871.5 392.9,871.6 393.5,871.8 394.1,871.9 394.7,871.9 395.3,871.9 395.9,871.8 396.5,871.7 397.1,871.6 397.7,871.7 398.3,871.7 398.9,871.7 399.5,871.5 400.1,871.5 400.7,871.2 401.3,870.9 401.9,870.6 402.5,870.6 403.1,870.4 403.7,870.0 404.3,869.8 404.9,869.7 405.5,869.5 406.1,869.1 406.7,868.7 407.3,868.4 407.9,868.1 408.5,868.1 409.1,868.1 409.7,868.3 410.3,868.3 410.9,868.3 411.5,868.5 412.2,868.8 412.8,869.2 413.4,869.5 414.0,869.8 414.6,869.9 415.2,870.2 415.8,870.3 416.4,870.7 417.0,870.7 417.6,871.2 418.2,871.3 418.8,871.6 419.4,871.7 420.0,871.8 420.6,871.7 421.2,871.8 421.8,871.8 422.4,872.1 423.0,872.0 423.6,872.0 424.2,872.1 424.8,872.2 425.4,872.3 426.0,872.1 426.6,872.0 427.2,871.9 427.8,872.1 428.4,872.3 429.0,872.4 429.6,872.3 430.2,872.2 430.8,872.3 431.4,872.2 432.0,872.2 432.6,872.2 433.2,872.4 433.8,872.5 434.4,872.3 435.0,872.2 435.6,872.3 436.2,872.4 436.8,872.7 437.4,872.6 438.0,872.5 438.6,872.3 439.2,872.5 439.8,872.4 440.4,872.6 441.0,872.6 441.6,872.6 442.2,872.5 442.8,872.2 443.4,872.2 444.0,872.4 444.6,872.5 445.2,872.5 445.8,872.5 446.4,872.6 447.0,872.7 447.6,872.7 448.2,872.8 448.8,872.7 449.4,872.7 450.0,872.7 450.6,872.8 451.2,872.6 451.8,872.4 452.4,872.2 453.0,872.4 453.6,872.5 454.2,872.5 454.8,872.7 455.4,872.8 456.0,873.1 456.6,872.9 457.2,872.8 457.8,872.8 458.4,872.9 459.0,873.0 459.6,872.8 460.2,872.7 460.8,872.4 461.4,872.6 462.0,872.7 462.6,873.0 463.2,873.1 463.8,873.1 464.4,872.9 465.0,873.0 465.6,873.0 466.2,872.9 466.8,873.0 467.4,873.0 468.0,873.5 468.6,873.4 469.2,873.1 469.8,872.7 470.4,872.7 471.0,872.8 471.6,872.9 472.2,873.1 472.8,873.0 473.4,873.1 474.0,872.8 474.6,872.8 475.2,872.8 475.8,872.7 476.4,872.8 477.0,872.9 477.6,873.1 478.2,873.1 478.8,873.1 479.4,872.9 480.0,872.9 480.6,872.9 481.2,873.0 481.8,873.0 482.4,873.1 483.0,873.0 483.6,873.0 484.2,873.1 484.8,873.3 485.4,873.3 486.0,873.1 486.6,873.1 487.2,873.1 487.8,873.0 488.4,872.9 489.0,873.1 489.6,873.1 490.2,873.1 490.8,872.9 491.4,873.1 492.0,873.0 492.6,873.0 493.2,872.8 493.8,872.8 494.4,872.9 495.0,873.1 495.6,873.0 496.2,873.0 496.8,873.2 497.4,873.2 498.0,873.2 498.6,872.9 499.2,873.0 499.8,873.0 500.4,873.3 501.0,873.3 501.6,873.3 502.2,873.2 502.8,873.2 503.4,873.2 504.0,873.1 504.6,873.2 505.2,873.1 505.8,873.1 506.4,872.8 507.0,872.8 507.6,872.9 508.2,872.9 508.8,872.9 509.4,872.9 510.0,873.0 510.6,872.8 511.2,872.4 511.8,872.0 512.4,871.8 513.0,871.6 513.6,871.7 514.2,871.6 514.8,871.3 515.4,871.0 516.0,870.5 516.6,870.5 517.2,870.2 517.8,870.0 518.4,869.4 519.0,869.1 519.6,868.9 520.2,868.8 520.8,868.5 521.4,868.3 522.0,868.3 522.6,868.3 523.2,868.7 523.8,868.9 524.4,869.1 525.0,869.5 525.6,869.8 526.2,870.3 526.8,870.6 527.4,871.0 528.0,871.3 528.6,871.5 529.2,871.7 529.8,872.1" fill="none" stroke="#d65a4c" stroke-width="1.35" stroke-linejoin="round"/>
<path d="M57.4,801.0 58.0,801.0 58.6,800.8 59.2,800.9 59.8,800.7 60.4,800.9 61.0,800.9 61.6,801.2 62.2,801.1 62.8,801.1 63.4,801.0 64.0,801.0 64.6,801.0 65.2,801.0 65.8,801.0 66.4,800.9 67.0,800.9 67.6,800.9 68.2,800.9 68.8,801.0 69.4,801.0 70.0,800.9 70.6,800.9 71.2,800.9 71.8,800.9 72.4,801.0 73.0,801.0 73.6,801.0 74.2,801.1 74.8,801.1 75.4,801.0 76.0,800.8 76.6,801.0 77.2,801.2 77.8,801.2 78.4,801.1 79.0,800.9 79.6,801.0 80.2,800.8 80.8,800.9 81.4,800.9 82.0,801.0 82.6,801.0 83.2,801.1 83.8,801.2 84.4,801.1 85.0,801.0 85.6,801.0 86.2,800.9 86.8,800.9 87.4,800.9 88.0,800.9 88.6,800.8 89.2,800.7 89.8,800.8 90.4,800.8 91.0,801.0 91.6,801.0 92.2,801.1 92.8,801.0 93.4,801.1 94.0,801.0 94.6,801.0 95.2,801.0 95.8,801.1 96.4,801.3 97.0,801.2 97.6,801.1 98.2,800.8 98.8,800.6 99.4,800.5 100.0,800.7 100.6,800.9 101.2,800.8 101.8,800.8 102.4,800.8 103.0,801.0 103.6,800.9 104.2,800.9 104.8,801.0 105.4,800.9 106.0,800.9 106.6,800.8 107.2,801.0 107.8,800.9 108.4,801.1 109.0,801.1 109.6,801.2 110.2,801.1 110.8,801.1 111.4,801.0 112.0,800.9 112.6,800.9 113.2,800.8 113.8,800.8 114.4,800.8 115.0,800.7 115.6,800.8 116.2,800.8 116.8,800.9 117.4,800.8 118.0,800.8 118.6,800.8 119.2,800.9 119.8,800.7 120.4,800.6 121.0,800.5 121.6,800.3 122.2,800.2 122.8,800.1 123.4,800.2 124.0,800.3 124.6,800.7 125.2,800.9 125.8,801.1 126.4,801.1 127.0,801.1 127.6,800.9 128.2,800.9 128.8,801.0 129.4,801.1 130.0,801.1 130.6,801.0 131.2,801.0 131.8,801.0 132.4,801.1 133.0,800.9 133.6,801.0 134.2,801.0 134.8,801.2 135.4,801.1 136.0,801.0 136.6,801.0 137.2,801.0 137.8,801.0 138.4,801.1 139.0,801.1 139.6,801.0 140.2,800.9 140.8,800.9 141.4,800.9 142.0,800.9 142.6,800.9 143.2,801.1 143.8,801.1 144.4,801.1 145.0,801.0 145.6,801.0 146.2,801.0 146.8,800.9 147.4,801.0 148.0,801.0 148.6,801.0 149.2,800.9 149.8,800.9 150.4,800.9 151.0,801.0 151.6,801.0 152.2,801.0 152.8,801.1 153.4,801.0 154.0,801.0 154.6,800.8 155.2,800.8 155.8,800.7 156.4,800.7 157.0,800.8 157.6,800.7 158.2,800.8 158.8,800.8 159.4,801.0 160.0,800.9 160.6,800.8 161.2,800.8 161.8,801.1 162.4,801.2 163.0,801.0 163.6,800.9 164.2,800.8 164.8,801.0 165.4,801.0 166.0,801.0 166.6,801.0 167.2,800.9 167.8,800.9 168.4,800.9 169.0,801.0 169.6,801.0 170.2,800.8 170.8,800.8 171.4,800.8 172.0,801.1 172.6,801.2 173.2,801.1 173.8,800.9 174.4,800.8 175.0,800.9 175.7,800.8 176.3,800.8 176.9,800.6 177.5,800.6 178.1,800.7 178.7,800.8 179.3,800.8 179.9,800.9 180.5,800.9 181.1,801.0 181.7,800.8 182.3,800.6 182.9,800.7 183.5,800.9 184.1,800.9 184.7,800.9 185.3,800.7 185.9,800.7 186.5,800.7 187.1,800.5 187.7,800.6 188.3,800.7 188.9,800.9 189.5,801.0 190.1,800.9 190.7,800.8 191.3,800.8 191.9,800.8 192.5,800.7 193.1,800.6 193.7,800.7 194.3,800.6 194.9,800.6 195.5,800.6 196.1,800.7 196.7,800.6 197.3,800.5 197.9,800.4 198.5,800.2 199.1,800.2 199.7,800.1 200.3,800.0 200.9,799.9 201.5,799.8 202.1,799.8 202.7,799.6 203.3,799.6 203.9,799.5 204.5,799.4 205.1,799.1 205.7,798.8 206.3,798.2 206.9,797.8 207.5,797.0 208.1,795.9 208.7,793.7 209.3,790.6 209.9,786.0 210.5,779.7 211.1,771.7 211.7,762.9 212.3,755.4 212.9,752.5 213.5,756.0 214.1,763.9 214.7,772.8 215.3,780.6 215.9,786.7 216.5,790.8 217.1,793.8 217.7,795.7 218.3,796.9 218.9,797.6 219.5,798.2 220.1,798.7 220.7,799.0 221.3,799.2 221.9,799.4 222.5,799.5 223.1,799.5 223.7,799.5 224.3,799.7 224.9,800.0 225.5,800.1 226.1,800.2 226.7,800.2 227.3,800.3 227.9,800.1 228.5,800.0 229.1,800.1 229.7,800.2 230.3,800.3 230.9,800.2 231.5,800.0 232.1,799.9 232.7,799.9 233.3,799.8 233.9,799.5 234.5,799.2 235.1,799.0 235.7,799.0 236.3,799.2 236.9,799.3 237.5,799.4 238.1,799.2 238.7,799.3 239.3,799.3 239.9,799.1 240.5,798.6 241.1,797.9 241.7,797.1 242.3,795.6 242.9,793.2 243.5,789.4 244.1,784.0 244.7,777.6 245.3,771.1 245.9,767.7 246.5,769.2 247.1,774.8 247.7,781.4 248.3,787.1 248.9,791.4 249.5,794.4 250.1,796.3 250.7,797.4 251.3,798.0 251.9,798.5 252.5,798.9 253.1,799.2 253.7,799.3 254.3,799.4 254.9,799.5 255.5,799.8 256.1,799.7 256.7,799.7 257.3,799.6 257.9,799.6 258.5,799.5 259.1,799.4 259.7,799.1 260.3,799.0 260.9,798.8 261.5,798.7 262.1,798.3 262.7,797.8 263.3,797.1 263.9,795.9 264.5,794.0 265.1,791.0 265.7,786.8 266.3,781.1 266.9,774.4 267.5,767.9 268.1,764.0 268.7,764.6 269.3,769.4 269.9,776.1 270.5,782.5 271.1,787.9 271.7,791.9 272.3,794.7 272.9,796.4 273.5,797.4 274.1,798.1 274.7,798.5 275.3,798.8 275.9,799.0 276.5,799.3 277.1,799.7 277.7,799.9 278.3,799.9 278.9,799.9 279.5,800.0 280.1,800.1 280.7,800.3 281.3,800.3 281.9,800.3 282.5,800.4 283.1,800.6 283.7,800.6 284.3,800.7 284.9,800.6 285.5,800.6 286.1,800.6 286.7,800.5 287.3,800.6 287.9,800.6 288.5,800.7 289.1,800.8 289.7,800.7 290.3,800.6 290.9,800.6 291.5,800.5 292.1,800.5 292.7,800.6 293.3,800.8 293.9,801.0 294.5,800.9 295.1,800.8 295.7,800.8 296.3,800.6 296.9,800.8 297.5,800.8 298.1,800.9 298.7,800.9 299.3,800.8 299.9,800.9 300.5,800.7 301.1,800.7 301.7,800.8 302.3,800.8 302.9,800.8 303.5,800.7 304.1,800.7 304.7,800.8 305.3,800.8 305.9,800.9 306.5,800.9 307.1,800.9 307.7,801.1 308.3,801.0 308.9,801.0 309.5,800.8 310.1,800.9 310.7,800.9 311.3,800.8 311.9,800.8 312.5,800.9 313.1,801.0 313.7,801.0 314.3,801.0 314.9,801.0 315.5,801.0 316.1,801.0 316.7,800.9 317.3,800.9 317.9,800.9 318.5,801.2 319.1,801.1 319.7,801.2 320.3,801.1 320.9,801.2 321.5,801.1 322.1,801.1 322.7,800.8 323.3,800.7 323.9,800.7 324.5,800.9 325.1,801.1 325.7,801.0 326.3,801.0 326.9,800.9 327.5,800.9 328.1,800.9 328.7,801.0 329.3,800.9 329.9,800.7 330.5,800.5 331.1,800.4 331.7,800.1 332.3,799.7 332.9,799.5 333.5,799.5 334.1,799.7 334.7,800.1 335.3,800.5 335.9,800.9 336.5,801.0 337.1,800.9 337.7,800.9 338.3,801.0 338.9,801.0 339.5,801.0 340.1,800.8 340.7,800.6 341.3,800.8 341.9,800.8 342.5,800.9 343.1,800.8 343.7,800.9 344.3,800.8 344.9,800.9 345.5,800.9 346.1,801.0 346.7,800.9 347.3,800.9 347.9,800.7 348.5,800.8 349.1,800.8 349.7,800.9 350.3,800.8 350.9,800.9 351.5,801.0 352.1,801.0 352.7,801.1 353.3,801.0 353.9,801.0 354.5,800.9 355.1,800.9 355.7,800.9 356.3,800.9 356.9,801.0 357.5,801.0 358.1,800.9 358.7,801.0 359.3,801.0 359.9,801.1 360.5,800.8 361.1,800.8 361.7,800.8 362.3,801.0 362.9,800.8 363.5,800.8 364.1,800.8 364.7,800.9 365.3,800.9 365.9,800.9 366.5,800.8 367.1,800.9 367.7,800.9 368.3,800.9 368.9,801.0 369.5,801.0 370.1,801.1 370.7,801.1 371.3,801.0 371.9,801.0 372.5,800.9 373.1,801.0 373.7,801.0 374.3,801.0 374.9,800.9 375.5,801.0 376.1,801.0 376.7,801.1 377.3,801.2 377.9,801.1 378.5,800.9 379.1,800.7 379.7,800.7 380.3,800.9 380.9,800.8 381.5,800.9 382.1,800.8 382.7,800.8 383.3,800.7 383.9,800.7 384.5,800.8 385.1,800.9 385.7,801.0 386.3,801.1 386.9,801.1 387.5,801.1 388.1,800.9 388.7,800.8 389.3,801.0 389.9,801.1 390.5,801.1 391.1,800.9 391.7,800.9 392.3,800.8 392.9,801.0 393.5,800.8 394.1,800.7 394.7,800.6 395.3,800.7 395.9,800.7 396.5,800.7 397.1,800.6 397.7,800.7 398.3,800.6 398.9,800.6 399.5,800.3 400.1,800.3 400.7,800.2 401.3,800.3 401.9,800.1 402.5,800.0 403.1,799.7 403.7,799.2 404.3,798.6 404.9,797.9 405.5,796.9 406.1,795.3 406.7,793.5 407.3,791.7 407.9,790.0 408.5,788.8 409.1,788.7 409.7,789.9 410.3,791.7 410.9,793.6 411.5,795.2 412.2,796.7 412.8,797.9 413.4,798.8 414.0,799.2 414.6,799.6 415.2,799.9 415.8,800.2 416.4,800.2 417.0,800.2 417.6,800.2 418.2,800.3 418.8,800.4 419.4,800.4 420.0,800.5 420.6,800.5 421.2,800.6 421.8,800.8 422.4,800.9 423.0,800.9 423.6,800.8 424.2,800.7 424.8,800.6 425.4,800.7 426.0,800.8 426.6,800.8 427.2,800.8 427.8,800.7 428.4,800.8 429.0,801.0 429.6,801.1 430.2,801.0 430.8,801.1 431.4,801.0 432.0,801.0 432.6,800.8 433.2,800.7 433.8,800.8 434.4,800.9 435.0,800.9 435.6,800.8 436.2,800.7 436.8,800.8 437.4,800.7 438.0,800.8 438.6,800.6 439.2,800.6 439.8,800.5 440.4,800.4 441.0,800.4 441.6,800.2 442.2,800.0 442.8,799.9 443.4,800.2 444.0,800.5 444.6,800.8 445.2,800.8 445.8,800.9 446.4,800.8 447.0,800.9 447.6,800.9 448.2,801.0 448.8,801.0 449.4,801.1 450.0,801.2 450.6,801.0 451.2,800.8 451.8,800.8 452.4,800.9 453.0,801.1 453.6,801.1 454.2,801.0 454.8,800.8 455.4,800.8 456.0,800.8 456.6,800.8 457.2,800.9 457.8,800.9 458.4,801.1 459.0,801.1 459.6,800.9 460.2,800.8 460.8,800.7 461.4,800.7 462.0,800.7 462.6,800.7 463.2,800.9 463.8,801.0 464.4,801.2 465.0,801.0 465.6,801.0 466.2,800.9 466.8,801.1 467.4,800.9 468.0,801.0 468.6,800.8 469.2,800.9 469.8,800.8 470.4,800.8 471.0,800.8 471.6,800.8 472.2,800.9 472.8,800.9 473.4,801.1 474.0,801.1 474.6,801.1 475.2,801.1 475.8,801.1 476.4,801.2 477.0,801.0 477.6,801.0 478.2,800.9 478.8,801.0 479.4,800.9 480.0,801.0 480.6,801.1 481.2,801.1 481.8,801.0 482.4,800.8 483.0,800.7 483.6,800.9 484.2,800.9 484.8,801.0 485.4,801.0 486.0,801.0 486.6,800.9 487.2,801.0 487.8,801.0 488.4,801.1 489.0,801.1 489.6,800.9 490.2,800.8 490.8,800.9 491.4,800.9 492.0,800.8 492.6,800.8 493.2,800.8 493.8,800.8 494.4,800.7 495.0,800.5 495.6,800.6 496.2,800.6 496.8,800.7 497.4,800.5 498.0,800.3 498.6,799.9 499.2,799.7 499.8,799.4 500.4,799.6 501.0,799.8 501.6,800.1 502.2,800.3 502.8,800.5 503.4,800.7 504.0,800.7 504.6,800.6 505.2,800.6 505.8,800.6 506.4,800.6 507.0,800.6 507.6,800.6 508.2,800.6 508.8,800.4 509.4,800.3 510.0,800.3 510.6,800.4 511.2,800.4 511.8,800.1 512.4,800.0 513.0,799.8 513.6,799.7 514.2,799.5 514.8,799.0 515.4,798.5 516.0,797.9 516.6,797.3 517.2,796.3 517.8,794.9 518.4,793.1 519.0,790.9 519.6,788.7 520.2,786.5 520.8,784.8 521.4,783.9 522.0,784.3 522.6,785.8 523.2,787.9 523.8,790.2 524.4,792.4 525.0,794.3 525.6,795.8 526.2,796.8 526.8,797.8 527.4,798.4 528.0,798.9 528.6,799.2 529.2,799.4 529.8,799.8" fill="none" stroke="#4c4cc4" stroke-width="1.35" stroke-linejoin="round"/>
<path d="M57.4,748.2 58.0,748.0 58.6,748.0 59.2,747.6 59.8,747.5 60.4,747.9 61.0,747.7 61.6,747.9 62.2,747.7 62.8,747.6 63.4,748.0 64.0,747.9 64.6,748.0 65.2,748.4 65.8,748.3 66.4,748.0 67.0,748.1 67.6,747.6 68.2,747.7 68.8,747.6 69.4,747.7 70.0,747.5 70.6,747.6 71.2,747.9 71.8,748.1 72.4,748.3 73.0,747.7 73.6,747.4 74.2,747.1 74.8,747.6 75.4,748.1 76.0,748.5 76.6,748.4 77.2,748.0 77.8,747.8 78.4,747.8 79.0,747.8 79.6,747.9 80.2,748.2 80.8,747.9 81.4,748.0 82.0,747.8 82.6,747.4 83.2,747.7 83.8,748.0 84.4,748.0 85.0,747.5 85.6,747.5 86.2,747.6 86.8,747.7 87.4,748.2 88.0,748.1 88.6,747.4 89.2,747.1 89.8,747.0 90.4,747.1 91.0,747.2 91.6,747.6 92.2,747.5 92.8,747.2 93.4,747.3 94.0,747.5 94.6,747.7 95.2,747.8 95.8,748.0 96.4,747.8 97.0,747.7 97.6,747.8 98.2,747.7 98.8,747.7 99.4,747.8 100.0,747.8 100.6,747.7 101.2,747.5 101.8,747.3 102.4,747.5 103.0,747.6 103.6,747.8 104.2,747.7 104.8,747.2 105.4,747.0 106.0,747.0 106.6,747.1 107.2,747.6 107.8,747.7 108.4,747.9 109.0,748.0 109.6,747.9 110.2,747.8 110.8,747.6 111.4,747.6 112.0,747.4 112.6,747.6 113.2,747.4 113.8,747.4 114.4,747.4 115.0,747.3 115.6,747.4 116.2,747.5 116.8,747.3 117.4,747.1 118.0,747.0 118.6,746.5 119.2,746.4 119.8,746.4 120.4,745.3 121.0,744.6 121.6,744.2 122.2,744.2 122.8,745.5 123.4,746.2 124.0,747.1 124.6,747.4 125.2,747.7 125.8,747.8 126.4,747.6 127.0,748.0 127.6,747.9 128.2,748.1 128.8,747.7 129.4,747.4 130.0,747.5 130.6,747.6 131.2,748.1 131.8,748.2 132.4,748.4 133.0,748.2 133.6,747.7 134.2,747.6 134.8,747.3 135.4,747.4 136.0,747.7 136.6,747.6 137.2,747.8 137.8,747.6 138.4,747.8 139.0,747.8 139.6,747.7 140.2,748.0 140.8,747.7 141.4,747.6 142.0,747.4 142.6,747.1 143.2,747.5 143.8,747.7 144.4,748.3 145.0,748.3 145.6,748.1 146.2,747.8 146.8,747.6 147.4,747.6 148.0,747.5 148.6,747.5 149.2,747.6 149.8,747.6 150.4,747.8 151.0,747.7 151.6,747.7 152.2,747.7 152.8,748.0 153.4,748.1 154.0,748.3 154.6,748.0 155.2,748.1 155.8,747.8 156.4,747.6 157.0,747.8 157.6,747.4 158.2,747.5 158.8,747.5 159.4,747.5 160.0,747.7 160.6,748.0 161.2,748.3 161.8,748.6 162.4,748.6 163.0,748.3 163.6,748.5 164.2,748.3 164.8,747.7 165.4,748.0 166.0,747.6 166.6,747.4 167.2,747.7 167.8,747.6 168.4,747.5 169.0,747.6 169.6,747.7 170.2,747.7 170.8,747.9 171.4,747.9 172.0,748.2 172.6,748.4 173.2,748.1 173.8,748.1 174.4,748.1 175.0,748.3 175.7,748.3 176.3,748.5 176.9,748.1 177.5,747.7 178.1,747.6 178.7,747.2 179.3,747.2 179.9,747.3 180.5,747.7 181.1,747.8 181.7,747.8 182.3,747.8 182.9,747.7 183.5,747.3 184.1,747.2 184.7,747.2 185.3,747.3 185.9,747.6 186.5,748.0 187.1,747.5 187.7,747.6 188.3,747.6 188.9,747.4 189.5,747.8 190.1,747.3 190.7,747.4 191.3,747.4 191.9,747.3 192.5,747.7 193.1,747.7 193.7,747.7 194.3,747.7 194.9,747.4 195.5,747.5 196.1,747.2 196.7,747.4 197.3,747.3 197.9,747.4 198.5,747.4 199.1,747.2 199.7,747.2 200.3,747.3 200.9,747.8 201.5,747.7 202.1,747.8 202.7,747.5 203.3,747.2 203.9,747.3 204.5,747.3 205.1,747.0 205.7,746.1 206.3,745.6 206.9,744.5 207.5,743.8 208.1,743.4 208.7,742.6 209.3,741.7 209.9,741.0 210.5,740.1 211.1,739.5 211.7,739.4 212.3,739.9 212.9,740.4 213.5,741.2 214.1,742.4 214.7,743.0 215.3,744.0 215.9,744.9 216.5,745.5 217.1,746.5 217.7,746.4 218.3,746.9 218.9,747.0 219.5,747.1 220.1,747.7 220.7,747.5 221.3,747.4 221.9,747.1 222.5,747.2 223.1,747.3 223.7,747.4 224.3,747.6 224.9,747.0 225.5,747.0 226.1,746.9 226.7,747.2 227.3,747.4 227.9,747.2 228.5,747.0 229.1,746.7 229.7,746.5 230.3,746.4 230.9,746.0 231.5,745.0 232.1,744.1 232.7,743.0 233.3,741.4 233.9,740.6 234.5,740.2 235.1,740.3 235.7,741.3 236.3,742.5 236.9,743.3 237.5,744.3 238.1,745.2 238.7,745.5 239.3,745.5 239.9,745.5 240.5,745.3 241.1,745.3 241.7,745.4 242.3,744.9 242.9,744.3 243.5,743.5 244.1,742.5 244.7,742.0 245.3,741.6 245.9,741.5 246.5,741.9 247.1,742.6 247.7,743.9 248.3,744.9 248.9,745.8 249.5,746.0 250.1,746.4 250.7,746.7 251.3,746.7 251.9,747.3 252.5,747.3 253.1,747.4 253.7,747.2 254.3,747.0 254.9,747.3 255.5,747.0 256.1,747.2 256.7,747.3 257.3,747.1 257.9,747.4 258.5,747.4 259.1,747.5 259.7,747.3 260.3,746.6 260.9,746.5 261.5,746.1 262.1,745.3 262.7,744.7 263.3,743.4 263.9,742.0 264.5,741.3 265.1,740.8 265.7,740.1 266.3,740.2 266.9,740.9 267.5,741.6 268.1,742.7 268.7,743.5 269.3,744.1 269.9,744.2 270.5,744.7 271.1,744.7 271.7,743.6 272.3,741.9 272.9,739.8 273.5,739.4 274.1,741.6 274.7,744.2 275.3,745.7 275.9,746.7 276.5,747.9 277.1,748.1 277.7,748.1 278.3,748.5 278.9,748.4 279.5,748.6 280.1,748.8 280.7,748.5 281.3,748.0 281.9,748.1 282.5,748.1 283.1,748.5 283.7,748.8 284.3,748.9 284.9,748.8 285.5,748.7 286.1,748.5 286.7,748.2 287.3,748.1 287.9,748.0 288.5,748.2 289.1,748.9 289.7,749.2 290.3,749.7 290.9,749.4 291.5,748.9 292.1,748.8 292.7,748.6 293.3,749.2 293.9,749.4 294.5,749.6 295.1,749.4 295.7,748.9 296.3,748.9 296.9,748.9 297.5,748.9 298.1,748.8 298.7,748.8 299.3,748.7 299.9,748.5 300.5,748.9 301.1,748.8 301.7,749.0 302.3,748.9 302.9,748.6 303.5,748.5 304.1,748.2 304.7,748.4 305.3,748.5 305.9,748.4 306.5,748.5 307.1,748.5 307.7,748.5 308.3,749.1 308.9,748.8 309.5,748.9 310.1,749.1 310.7,748.8 311.3,749.1 311.9,748.8 312.5,748.3 313.1,748.3 313.7,748.4 314.3,748.4 314.9,749.0 315.5,748.8 316.1,748.9 316.7,749.1 317.3,748.8 317.9,749.0 318.5,749.1 319.1,749.0 319.7,748.8 320.3,748.5 320.9,748.6 321.5,748.7 322.1,748.8 322.7,748.9 323.3,749.0 323.9,748.8 324.5,748.6 325.1,748.9 325.7,748.4 326.3,748.3 326.9,748.4 327.5,747.9 328.1,748.0 328.7,747.8 329.3,747.6 329.9,747.2 330.5,746.9 331.1,746.1 331.7,745.3 332.3,745.0 332.9,744.6 333.5,744.6 334.1,745.5 334.7,745.7 335.3,746.0 335.9,746.9 336.5,746.8 337.1,747.4 337.7,748.0 338.3,748.1 338.9,748.1 339.5,747.8 340.1,747.2 340.7,746.8 341.3,746.4 341.9,745.8 342.5,745.2 343.1,743.8 343.7,741.8 344.3,737.7 344.9,728.9 345.5,712.7 346.1,688.6 346.7,667.3 347.3,669.4 347.9,692.4 348.5,715.3 349.1,730.2 349.7,737.8 350.3,741.8 350.9,743.9 351.5,745.2 352.1,746.2 352.7,746.5 353.3,746.6 353.9,746.7 354.5,747.3 355.1,747.7 355.7,748.2 356.3,748.6 356.9,748.4 357.5,748.6 358.1,748.5 358.7,748.1 359.3,748.5 359.9,748.1 360.5,748.6 361.1,748.8 361.7,749.0 362.3,749.2 362.9,749.0 363.5,749.3 364.1,748.9 364.7,749.1 365.3,749.0 365.9,748.9 366.5,749.0 367.1,748.8 367.7,749.0 368.3,748.7 368.9,748.8 369.5,748.8 370.1,749.2 370.7,749.8 371.3,749.4 371.9,749.7 372.5,749.1 373.1,748.6 373.7,748.7 374.3,748.9 374.9,748.7 375.5,749.2 376.1,749.1 376.7,749.0 377.3,749.3 377.9,748.9 378.5,749.0 379.1,748.8 379.7,748.9 380.3,749.3 380.9,749.2 381.5,749.3 382.1,749.2 382.7,748.8 383.3,749.1 383.9,749.0 384.5,748.9 385.1,749.0 385.7,749.0 386.3,749.0 386.9,749.2 387.5,749.1 388.1,749.1 388.7,749.3 389.3,749.3 389.9,749.5 390.5,749.5 391.1,749.4 391.7,749.2 392.3,749.0 392.9,749.1 393.5,748.8 394.1,749.2 394.7,749.1 395.3,749.1 395.9,749.6 396.5,749.6 397.1,749.9 397.7,750.0 398.3,749.5 398.9,749.3 399.5,749.1 400.1,748.8 400.7,749.0 401.3,749.1 401.9,749.3 402.5,749.6 403.1,749.8 403.7,749.6 404.3,749.5 404.9,749.3 405.5,749.1 406.1,748.8 406.7,748.5 407.3,748.2 407.9,748.3 408.5,748.4 409.1,748.5 409.7,748.6 410.3,748.4 410.9,748.2 411.5,748.1 412.2,748.4 412.8,748.9 413.4,748.8 414.0,748.9 414.6,748.7 415.2,748.3 415.8,748.6 416.4,748.7 417.0,748.6 417.6,748.9 418.2,748.8 418.8,749.1 419.4,749.5 420.0,749.4 420.6,749.5 421.2,749.1 421.8,749.0 422.4,749.3 423.0,749.8 423.6,750.1 424.2,749.9 424.8,749.6 425.4,749.6 426.0,749.5 426.6,749.7 427.2,749.7 427.8,749.5 428.4,749.5 429.0,749.4 429.6,749.5 430.2,749.7 430.8,749.6 431.4,750.0 432.0,750.1 432.6,749.9 433.2,750.1 433.8,749.9 434.4,749.5 435.0,749.4 435.6,749.4 436.2,749.3 436.8,749.8 437.4,749.6 438.0,749.3 438.6,749.0 439.2,748.6 439.8,748.5 440.4,748.4 441.0,748.8 441.6,748.7 442.2,749.0 442.8,749.4 443.4,749.7 444.0,750.2 444.6,750.5 445.2,750.3 445.8,750.0 446.4,749.9 447.0,749.8 447.6,749.5 448.2,749.5 448.8,749.3 449.4,748.9 450.0,749.1 450.6,749.0 451.2,749.1 451.8,749.7 452.4,749.9 453.0,750.2 453.6,750.1 454.2,749.8 454.8,749.6 455.4,749.6 456.0,749.7 456.6,750.0 457.2,750.1 457.8,749.8 458.4,749.8 459.0,749.7 459.6,749.6 460.2,749.5 460.8,749.8 461.4,749.6 462.0,749.8 462.6,749.9 463.2,749.8 463.8,750.0 464.4,749.9 465.0,750.4 465.6,750.3 466.2,750.2 466.8,750.0 467.4,749.3 468.0,749.0 468.6,749.0 469.2,749.2 469.8,749.4 470.4,749.8 471.0,749.8 471.6,749.5 472.2,749.5 472.8,749.2 473.4,749.4 474.0,749.9 474.6,750.0 475.2,750.3 475.8,750.4 476.4,749.8 477.0,749.6 477.6,749.6 478.2,749.5 478.8,749.8 479.4,749.9 480.0,749.5 480.6,749.6 481.2,749.5 481.8,749.4 482.4,749.7 483.0,749.9 483.6,749.9 484.2,750.1 484.8,750.0 485.4,749.7 486.0,749.8 486.6,749.9 487.2,750.0 487.8,750.0 488.4,749.7 489.0,749.6 489.6,749.7 490.2,749.7 490.8,749.6 491.4,749.7 492.0,749.7 492.6,749.6 493.2,750.1 493.8,749.9 494.4,749.7 495.0,749.6 495.6,749.3 496.2,749.4 496.8,748.9 497.4,748.8 498.0,747.9 498.6,747.2 499.2,747.0 499.8,746.9 500.4,747.2 501.0,747.7 501.6,748.0 502.2,748.3 502.8,748.3 503.4,748.7 504.0,748.8 504.6,749.0 505.2,749.6 505.8,749.8 506.4,750.2 507.0,750.4 507.6,749.7 508.2,749.5 508.8,749.5 509.4,749.3 510.0,749.6 510.6,749.9 511.2,749.9 511.8,749.8 512.4,750.0 513.0,750.0 513.6,749.9 514.2,750.3 514.8,750.1 515.4,750.1 516.0,750.2 516.6,749.5 517.2,749.4 517.8,748.9 518.4,748.5 519.0,748.3 519.6,748.0 520.2,748.0 520.8,747.7 521.4,747.5 522.0,747.5 522.6,747.4 523.2,747.4 523.8,748.0 524.4,748.7 525.0,748.9 525.6,749.7 526.2,749.9 526.8,749.5 527.4,749.5 528.0,749.0 528.6,749.2 529.2,749.2 529.8,749.6" fill="none" stroke="#5050c0" stroke-width="1.35" stroke-linejoin="round"/>
<rect x="54.1" y="39.5" width="483.69999999999993" height="347.5" fill="none" stroke="#000" stroke-width="1.6"/>
<rect x="57.4" y="580.3" width="472.20000000000005" height="369.4000000000001" fill="none" stroke="#000" stroke-width="1.6"/>
<path d="M54.1,387 v7.5 M57.4,949.7 v7.5 M114.6,387 v4.2 M116.5,949.7 v4.2 M175.0,387 v7.5 M175.5,949.7 v7.5 M235.4,387 v4.2 M234.6,949.7 v4.2 M295.9,387 v7.5 M293.6,949.7 v7.5 M356.4,387 v4.2 M352.6,949.7 v4.2 M416.8,387 v7.5 M411.7,949.7 v7.5 M477.2,387 v4.2 M470.8,949.7 v4.2 M537.7,387 v7.5 M529.8,949.7 v7.5" stroke="#000" stroke-width="1.6" fill="none"/>
<rect x="338.7" y="48.5" width="183.09999999999997" height="148.3" fill="none" stroke="#707070" stroke-width="1.1"/>
<path d="M368.4,196.8 v2.5 M406.4,196.8 v1.8 M444.4,196.8 v2.5 M482.4,196.8 v1.8 M520.4,196.8 v2.5" stroke="#707070" stroke-width="1.1" fill="none"/>
<rect x="192.4" y="177.7" width="103.20000000000002" height="193.5" fill="none" stroke="#8a8a8a" stroke-width="1.0"/>
<path d="M295.6,177.7 L323.7,160.2 M317.0,160.6 L323.7,160.2 L321.4,166.2" stroke="#6a6a6a" stroke-width="1" fill="none"/>
<g class="tx" id="a_title" transform="translate(213.55,20.65) scale(0.9984,0.9946)" fill="#000"><text x="0" y="0" font-family='"Liberation Sans", sans-serif' font-size="25" font-weight="bold" letter-spacing="1.8">AlN Powder</text></g>
<g class="tx" id="a_V" transform="translate(74.61,77.80) scale(1.1714,1.0740)" fill="#000"><text x="0" y="0" font-family='"Liberation Sans", sans-serif' font-size="25" font-weight="bold">V: Al</text></g>
<g class="tx" id="a_2" transform="translate(138.41,88.90) scale(1.1852,1.1474)" fill="#000"><text x="0" y="0" font-family='"Liberation Sans", sans-serif' font-size="14" font-weight="bold">2</text></g>
<g class="tx" id="a_O" transform="translate(148.57,78.20) scale(1.1257,1.1831)" fill="#000"><text x="0" y="0" font-family='"Liberation Sans", sans-serif' font-size="25" font-weight="bold">O</text></g>
<g class="tx" id="a_3" transform="translate(170.61,88.90) scale(1.1852,1.0737)" fill="#000"><text x="0" y="0" font-family='"Liberation Sans", sans-serif' font-size="14" font-weight="bold">3</text></g>
<g class="tx" id="a_ylab" transform="translate(20.93,351.40) scale(1.0043,1.0282)" fill="#000"><text x="0" y="0" font-family='"Liberation Sans", sans-serif' font-size="25" font-weight="bold" transform="rotate(-90)" letter-spacing="0.5">Intensity (Arb. Units)</text></g>
<g class="tx" id="a_tk20" transform="translate(44.77,412.10) scale(1.0667,1.0489)" fill="#000"><text x="0" y="0" font-family='"Liberation Sans", sans-serif' font-size="16" font-weight="bold">20</text></g>
<g class="tx" id="a_tk30" transform="translate(165.76,412.10) scale(1.0727,1.0489)" fill="#000"><text x="0" y="0" font-family='"Liberation Sans", sans-serif' font-size="16" font-weight="bold">30</text></g>
<g class="tx" id="a_tk40" transform="translate(286.64,412.10) scale(1.0269,1.0489)" fill="#000"><text x="0" y="0" font-family='"Liberation Sans", sans-serif' font-size="16" font-weight="bold">40</text></g>
<g class="tx" id="a_tk50" transform="translate(407.49,412.10) scale(1.0242,1.0489)" fill="#000"><text x="0" y="0" font-family='"Liberation Sans", sans-serif' font-size="16" font-weight="bold">50</text></g>
<g class="tx" id="a_tk60" transform="translate(528.47,412.10) scale(1.0545,1.0489)" fill="#000"><text x="0" y="0" font-family='"Liberation Sans", sans-serif' font-size="16" font-weight="bold">60</text></g>
<g class="tx" id="a_2t" transform="translate(282.17,446.20) scale(0.9796,1.0171)" fill="#000"><text x="0" y="0" font-family='"Liberation Sans", sans-serif' font-size="25" font-weight="bold">2</text></g>
<g class="tx" id="a_th" transform="translate(296.71,445.95) scale(1.2889,0.9846)" fill="#000"><text x="0" y="0" font-family='"Liberation Serif", serif' font-size="23" font-weight="normal">&#952;</text></g>
<g class="tx" id="a_lab" transform="translate(282.21,484.46) scale(1.0863,1.1385)" fill="#000"><text x="0" y="0" font-family='"Liberation Sans", sans-serif' font-size="21" font-weight="bold">(a)</text></g>
<g class="tx" id="a_pk0" transform="translate(216.85,230.43) scale(1.1154,1.1350)" fill="#000"><text x="0" y="0" font-family='"Liberation Sans", sans-serif' font-size="14" font-weight="normal" transform="rotate(-90)">(100)</text></g>
<g class="tx" id="a_pk1" transform="translate(251.59,245.33) scale(1.0692,1.1285)" fill="#000"><text x="0" y="0" font-family='"Liberation Sans", sans-serif' font-size="14" font-weight="normal" transform="rotate(-90)">(002)</text></g>
<g class="tx" id="a_pk2" transform="translate(275.65,240.23) scale(1.0154,1.1252)" fill="#000"><text x="0" y="0" font-family='"Liberation Sans", sans-serif' font-size="14" font-weight="normal" transform="rotate(-90)">(101)</text></g>
<g class="tx" id="a_pk3" transform="translate(418.07,260.71) scale(0.8769,1.1122)" fill="#000"><text x="0" y="0" font-family='"Liberation Sans", sans-serif' font-size="14" font-weight="normal" transform="rotate(-90)">(102)</text></g>
<g class="tx" id="a_pk4" transform="translate(531.02,256.14) scale(1.0923,1.1429)" fill="#000"><text x="0" y="0" font-family='"Liberation Sans", sans-serif' font-size="14" font-weight="normal" transform="rotate(-90)">(110)</text></g>
<g class="tx" id="a_v0" transform="translate(117.60,270.70) scale(0.9806,1.2138)" fill="#000"><text x="0" y="0" font-family='"Liberation Sans", sans-serif' font-size="14" font-weight="bold">v</text></g>
<g class="tx" id="a_v1" transform="translate(233.55,266.70) scale(0.9806,1.2138)" fill="#000"><text x="0" y="0" font-family='"Liberation Sans", sans-serif' font-size="14" font-weight="bold">v</text></g>
<g class="tx" id="a_v2" transform="translate(331.35,268.20) scale(0.9806,1.2138)" fill="#000"><text x="0" y="0" font-family='"Liberation Sans", sans-serif' font-size="14" font-weight="bold">v</text></g>
<g class="tx" id="a_v3" transform="translate(444.10,267.80) scale(0.9806,1.2138)" fill="#000"><text x="0" y="0" font-family='"Liberation Sans", sans-serif' font-size="14" font-weight="bold">v</text></g>
<g class="tx" id="a_v4" transform="translate(502.70,268.00) scale(0.9806,1.2138)" fill="#000"><text x="0" y="0" font-family='"Liberation Sans", sans-serif' font-size="14" font-weight="bold">v</text></g>
<g class="tx" id="a_leg850n" transform="translate(543.46,278.90) scale(1.0826,1.0468)" fill="#16169c"><text x="0" y="0" font-family='"Liberation Sans", sans-serif' font-size="17" font-weight="bold">850</text></g>
<g class="tx" id="a_leg850o" transform="translate(574.44,268.70) scale(1.1238,0.9500)" fill="#16169c"><text x="0" y="0" font-family='"Liberation Sans", sans-serif' font-size="11" font-weight="normal">o</text></g>
<g class="tx" id="a_leg850c" transform="translate(581.36,278.90) scale(0.9909,1.0723)" fill="#16169c"><text x="0" y="0" font-family='"Liberation Sans", sans-serif' font-size="17" font-weight="bold">C</text></g>
<g class="tx" id="a_leg800n" transform="translate(543.77,323.20) scale(1.0642,1.0553)" fill="#cc1620"><text x="0" y="0" font-family='"Liberation Sans", sans-serif' font-size="17" font-weight="bold">800</text></g>
<g class="tx" id="a_leg800o" transform="translate(574.23,314.20) scale(1.1429,1.0000)" fill="#cc1620"><text x="0" y="0" font-family='"Liberation Sans", sans-serif' font-size="11" font-weight="normal">o</text></g>
<g class="tx" id="a_leg800c" transform="translate(581.38,323.20) scale(0.9545,1.0723)" fill="#cc1620"><text x="0" y="0" font-family='"Liberation Sans", sans-serif' font-size="17" font-weight="bold">C</text></g>
<g class="tx" id="a_legraw" transform="translate(543.90,367.60) scale(1.0962,1.0638)" fill="#000"><text x="0" y="0" font-family='"Liberation Sans", sans-serif' font-size="16" font-weight="bold" letter-spacing="0.6">Raw Powder</text></g>
<g class="tx" id="i_raw" transform="translate(350.03,82.60) scale(1.0320,0.9943)" fill="#000"><text x="0" y="0" font-family='"Liberation Sans", sans-serif' font-size="12.5" font-weight="bold">Raw</text></g>
<g class="tx" id="i_pow" transform="translate(350.05,99.70) scale(1.0034,1.0444)" fill="#000"><text x="0" y="0" font-family='"Liberation Sans", sans-serif' font-size="12.5" font-weight="bold">Powder</text></g>
<g class="tx" id="i_800n" transform="translate(349.31,123.10) scale(0.9805,1.0556)" fill="#cc1620"><text x="0" y="0" font-family='"Liberation Sans", sans-serif' font-size="13" font-weight="bold">800</text></g>
<g class="tx" id="i_800o" transform="translate(370.20,116.00) scale(1.2000,1.0600)" fill="#cc1620"><text x="0" y="0" font-family='"Liberation Sans", sans-serif' font-size="9" font-weight="normal">o</text></g>
<g class="tx" id="i_800c" transform="translate(375.42,123.10) scale(0.9647,1.0556)" fill="#cc1620"><text x="0" y="0" font-family='"Liberation Sans", sans-serif' font-size="13" font-weight="bold">C</text></g>
<g class="tx" id="i_850n" transform="translate(349.00,147.10) scale(0.9951,1.0556)" fill="#16169c"><text x="0" y="0" font-family='"Liberation Sans", sans-serif' font-size="13" font-weight="bold">850</text></g>
<g class="tx" id="i_850o" transform="translate(369.86,140.30) scale(1.2706,1.0600)" fill="#16169c"><text x="0" y="0" font-family='"Liberation Sans", sans-serif' font-size="9" font-weight="normal">o</text></g>
<g class="tx" id="i_850c" transform="translate(375.42,147.10) scale(0.9647,1.0556)" fill="#16169c"><text x="0" y="0" font-family='"Liberation Sans", sans-serif' font-size="13" font-weight="bold">C</text></g>
<g class="tx" id="i_tk30" transform="translate(359.27,214.40) scale(1.0667,1.0200)" fill="#000"><text x="0" y="0" font-family='"Liberation Sans", sans-serif' font-size="14.5" font-weight="bold">30</text></g>
<g class="tx" id="i_tk35" transform="translate(436.51,214.40) scale(0.9836,1.0000)" fill="#000"><text x="0" y="0" font-family='"Liberation Sans", sans-serif' font-size="14.5" font-weight="bold">35</text></g>
<g class="tx" id="i_tk40" transform="translate(512.13,214.40) scale(1.0820,1.0000)" fill="#000"><text x="0" y="0" font-family='"Liberation Sans", sans-serif' font-size="14.5" font-weight="bold">40</text></g>
<g class="tx" id="i_V" transform="translate(441.98,175.60) scale(0.8970,1.0333)" fill="#000"><text x="0" y="0" font-family='"Liberation Sans", sans-serif' font-size="13" font-weight="bold">V</text></g>
<g class="tx" id="i_pk0" transform="translate(418.12,68.62) scale(0.7333,1.0423)" fill="#3c3c3c"><text x="0" y="0" font-family='"Liberation Sans", sans-serif' font-size="8" font-weight="bold" transform="rotate(-90)">(100)</text></g>
<g class="tx" id="i_pk1" transform="translate(460.72,95.55) scale(0.7333,1.0930)" fill="#3c3c3c"><text x="0" y="0" font-family='"Liberation Sans", sans-serif' font-size="8" font-weight="bold" transform="rotate(-90)">(002)</text></g>
<g class="tx" id="i_pk2" transform="translate(490.30,105.13) scale(0.8000,1.0648)" fill="#3c3c3c"><text x="0" y="0" font-family='"Liberation Sans", sans-serif' font-size="8" font-weight="bold" transform="rotate(-90)">(101)</text></g>
<g class="tx" id="b_title" transform="translate(233.71,559.50) scale(1.0476,1.0187)" fill="#000"><text x="0" y="0" font-family='"Liberation Sans", sans-serif' font-size="26" font-weight="bold">AlN Film</text></g>
<g class="tx" id="b_v" transform="translate(402.10,607.80) scale(0.9538,1.0074)" fill="#000"><text x="0" y="0" font-family='"Liberation Sans", sans-serif' font-size="13" font-weight="normal">v</text></g>
<g class="tx" id="b_c1" transform="translate(408.17,607.80) scale(1.5429,1.0462)" fill="#000"><text x="0" y="0" font-family='"Liberation Sans", sans-serif' font-size="13" font-weight="bold">:</text></g>
<g class="tx" id="b_Al" transform="translate(421.57,607.80) scale(1.0523,1.0415)" fill="#000"><text x="0" y="0" font-family='"Liberation Sans", sans-serif' font-size="18" font-weight="bold">Al</text></g>
<g class="tx" id="b_2" transform="translate(440.53,616.50) scale(1.1000,1.0571)" fill="#000"><text x="0" y="0" font-family='"Liberation Sans", sans-serif' font-size="10" font-weight="bold">2</text></g>
<g class="tx" id="b_O" transform="translate(447.21,608.20) scale(0.9200,1.1451)" fill="#000"><text x="0" y="0" font-family='"Liberation Sans", sans-serif' font-size="18" font-weight="bold">O</text></g>
<g class="tx" id="b_3" transform="translate(462.33,616.50) scale(1.1000,1.0571)" fill="#000"><text x="0" y="0" font-family='"Liberation Sans", sans-serif' font-size="10" font-weight="bold">3</text></g>
<g class="tx" id="b_ast" transform="translate(402.10,646.10) scale(1.1273,1.0000)" fill="#000"><text x="0" y="0" font-family='"Liberation Sans", sans-serif' font-size="14" font-weight="bold">*</text></g>
<g class="tx" id="b_c2" transform="translate(407.58,650.10) scale(1.4400,1.1135)" fill="#000"><text x="0" y="0" font-family='"Liberation Sans", sans-serif' font-size="18" font-weight="bold">:</text></g>
<g class="tx" id="b_sub" transform="translate(421.17,650.10) scale(1.0552,1.0963)" fill="#000"><text x="0" y="0" font-family='"Liberation Sans", sans-serif' font-size="18.5" font-weight="bold">Substrate</text></g>
<g class="tx" id="b_ylab" transform="translate(24.34,916.46) scale(1.0103,1.0654)" fill="#000"><text x="0" y="0" font-family='"Liberation Sans", sans-serif' font-size="26" font-weight="bold" transform="rotate(-90)" letter-spacing="0.5">Intensity (Arb. Units)</text></g>
<g class="tx" id="b_tk20" transform="translate(47.59,976.40) scale(1.0145,1.0261)" fill="#000"><text x="0" y="0" font-family='"Liberation Sans", sans-serif' font-size="16.5" font-weight="bold">20</text></g>
<g class="tx" id="b_tk30" transform="translate(166.11,976.40) scale(0.9855,1.0261)" fill="#000"><text x="0" y="0" font-family='"Liberation Sans", sans-serif' font-size="16.5" font-weight="bold">30</text></g>
<g class="tx" id="b_tk40" transform="translate(284.36,976.40) scale(0.9771,1.0261)" fill="#000"><text x="0" y="0" font-family='"Liberation Sans", sans-serif' font-size="16.5" font-weight="bold">40</text></g>
<g class="tx" id="b_tk50" transform="translate(402.85,976.40) scale(0.9043,1.0261)" fill="#000"><text x="0" y="0" font-family='"Liberation Sans", sans-serif' font-size="16.5" font-weight="bold">50</text></g>
<g class="tx" id="b_tk60" transform="translate(520.41,976.40) scale(0.9797,1.0261)" fill="#000"><text x="0" y="0" font-family='"Liberation Sans", sans-serif' font-size="16.5" font-weight="bold">60</text></g>
<g class="tx" id="b_2t" transform="translate(279.24,1012.00) scale(0.9600,1.0611)" fill="#000"><text x="0" y="0" font-family='"Liberation Sans", sans-serif' font-size="26" font-weight="bold">2</text></g>
<g class="tx" id="b_th" transform="translate(294.30,1011.75) scale(1.2000,0.9941)" fill="#000"><text x="0" y="0" font-family='"Liberation Serif", serif' font-size="24" font-weight="normal">&#952;</text></g>
<g class="tx" id="b_lab" transform="translate(278.26,1062.26) scale(1.0423,1.0765)" fill="#000"><text x="0" y="0" font-family='"Liberation Sans", sans-serif' font-size="22" font-weight="bold">(b)</text></g>
<g class="tx" id="b_pk0" transform="translate(217.04,734.75) scale(1.0545,1.1455)" fill="#000"><text x="0" y="0" font-family='"Liberation Sans", sans-serif' font-size="15" font-weight="normal" transform="rotate(-90)">(100)</text></g>
<g class="tx" id="b_pk1" transform="translate(249.74,731.52) scale(1.0545,1.1242)" fill="#000"><text x="0" y="0" font-family='"Liberation Sans", sans-serif' font-size="15" font-weight="normal" transform="rotate(-90)">(002)</text></g>
<g class="tx" id="b_pk2" transform="translate(271.14,721.73) scale(1.0545,1.1333)" fill="#000"><text x="0" y="0" font-family='"Liberation Sans", sans-serif' font-size="15" font-weight="normal" transform="rotate(-90)">(101)</text></g>
<g class="tx" id="b_pk3" transform="translate(414.75,743.95) scale(1.0836,1.1455)" fill="#000"><text x="0" y="0" font-family='"Liberation Sans", sans-serif' font-size="15" font-weight="normal" transform="rotate(-90)">(102)</text></g>
<g class="tx" id="b_pk4" transform="translate(523.86,742.88) scale(1.0473,1.1813)" fill="#000"><text x="0" y="0" font-family='"Liberation Sans", sans-serif' font-size="15" font-weight="normal" transform="rotate(-90)">(110)</text></g>
<g class="tx" id="b_v0" transform="translate(118.05,740.70) scale(1.0462,1.2148)" fill="#000"><text x="0" y="0" font-family='"Liberation Sans", sans-serif' font-size="13" font-weight="normal">v</text></g>
<g class="tx" id="b_v1" transform="translate(231.40,735.70) scale(1.0462,1.2148)" fill="#000"><text x="0" y="0" font-family='"Liberation Sans", sans-serif' font-size="13" font-weight="normal">v</text></g>
<g class="tx" id="b_v2" transform="translate(328.90,737.60) scale(1.0462,1.2148)" fill="#000"><text x="0" y="0" font-family='"Liberation Sans", sans-serif' font-size="13" font-weight="normal">v</text></g>
<g class="tx" id="b_v3" transform="translate(435.85,743.15) scale(1.0462,1.2148)" fill="#000"><text x="0" y="0" font-family='"Liberation Sans", sans-serif' font-size="13" font-weight="normal">v</text></g>
<g class="tx" id="b_v4" transform="translate(496.25,739.65) scale(1.0462,1.2148)" fill="#000"><text x="0" y="0" font-family='"Liberation Sans", sans-serif' font-size="13" font-weight="normal">v</text></g>
<g class="tx" id="b_ast0" transform="translate(271.20,740.06) scale(1.0000,1.0737)" fill="#000"><text x="0" y="0" font-family='"Liberation Sans", sans-serif' font-size="13" font-weight="bold">*</text></g>
<g class="tx" id="b_ast1" transform="translate(344.70,664.06) scale(1.1200,1.0737)" fill="#000"><text x="0" y="0" font-family='"Liberation Sans", sans-serif' font-size="13" font-weight="bold">*</text></g>
<g class="tx" id="b_ast2" transform="translate(346.30,780.08) scale(1.1200,1.2421)" fill="#000"><text x="0" y="0" font-family='"Liberation Sans", sans-serif' font-size="13" font-weight="bold">*</text></g>
<g class="tx" id="b_ast3" transform="translate(271.80,858.07) scale(1.0400,1.2632)" fill="#000"><text x="0" y="0" font-family='"Liberation Sans", sans-serif' font-size="13" font-weight="bold">*</text></g>
<g class="tx" id="b_legAD" transform="translate(534.47,754.00) scale(1.0629,1.0320)" fill="#16169c"><text x="0" y="0" font-family='"Liberation Sans", sans-serif' font-size="17" font-weight="bold">AD Film</text></g>
<g class="tx" id="b_leg850n" transform="translate(533.72,804.65) scale(1.0276,1.1000)" fill="#16169c"><text x="0" y="0" font-family='"Liberation Sans", sans-serif' font-size="17" font-weight="bold" letter-spacing="0.5">Powder (850</text></g>
<g class="tx" id="b_leg850o" transform="translate(642.20,795.70) scale(1.0095,1.0667)" fill="#16169c"><text x="0" y="0" font-family='"Liberation Sans", sans-serif' font-size="11" font-weight="normal">o</text></g>
<g class="tx" id="b_leg850c" transform="translate(648.26,804.65) scale(1.1138,1.1000)" fill="#16169c"><text x="0" y="0" font-family='"Liberation Sans", sans-serif' font-size="17" font-weight="bold">C)</text></g>
<g class="tx" id="b_legGSV" transform="translate(534.20,874.40) scale(1.0631,1.0240)" fill="#cc1620"><text x="0" y="0" font-family='"Liberation Sans", sans-serif' font-size="17" font-weight="bold">GSV Film</text></g>
<g class="tx" id="b_leg800n" transform="translate(533.71,924.76) scale(1.0324,1.0688)" fill="#cc1620"><text x="0" y="0" font-family='"Liberation Sans", sans-serif' font-size="17" font-weight="bold" letter-spacing="0.5">Powder (800</text></g>
<g class="tx" id="b_leg800o" transform="translate(642.70,916.20) scale(1.0095,1.0667)" fill="#cc1620"><text x="0" y="0" font-family='"Liberation Sans", sans-serif' font-size="11" font-weight="normal">o</text></g>
<g class="tx" id="b_leg800c" transform="translate(649.26,924.76) scale(1.1200,1.0688)" fill="#cc1620"><text x="0" y="0" font-family='"Liberation Sans", sans-serif' font-size="17" font-weight="bold">C)</text></g></svg></body></html>
